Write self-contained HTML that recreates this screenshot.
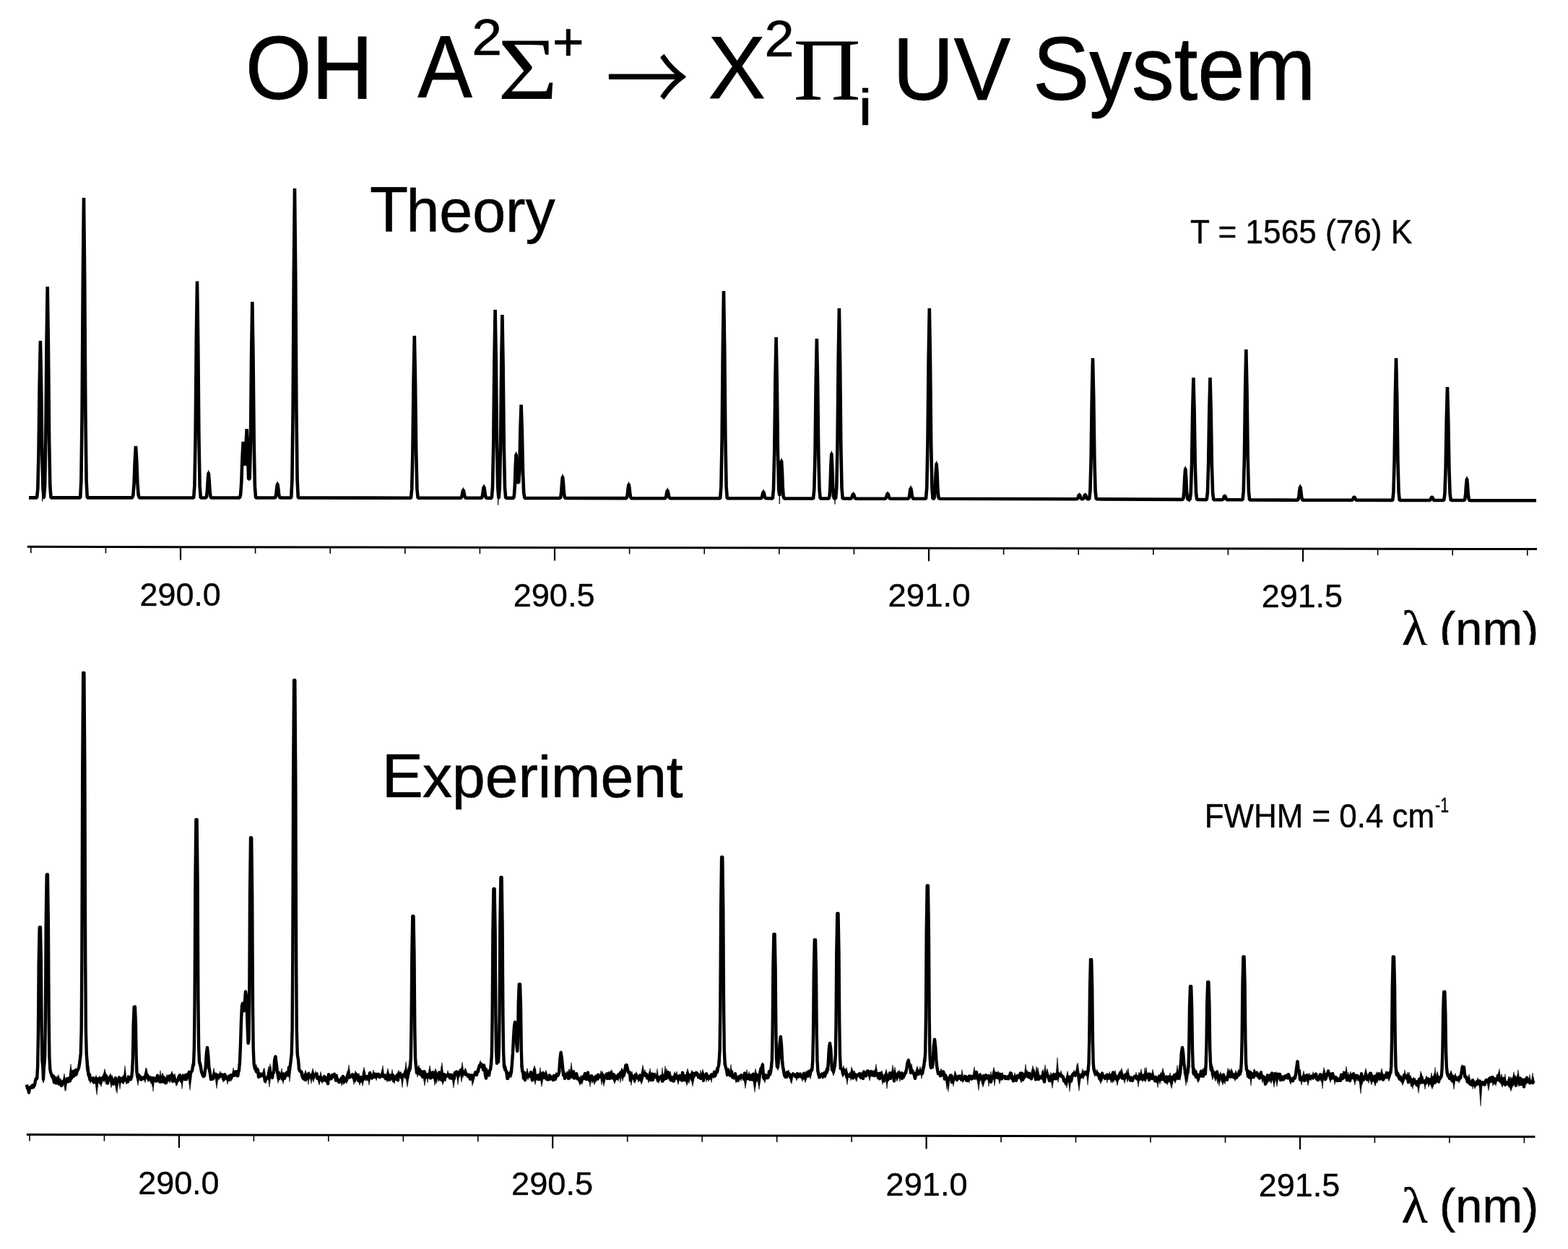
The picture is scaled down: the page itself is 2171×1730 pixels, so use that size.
<!DOCTYPE html>
<html lang="en"><head><meta charset="utf-8"><title>OH A-X UV System</title>
<style>html,body{margin:0;padding:0;background:#fff}body{width:2171px;height:1730px;overflow:hidden}svg{display:block}</style>
</head><body>
<svg width="2171" height="1730" viewBox="0 0 2171 1730" role="img" aria-label="OH A-X UV system: theory and experiment spectra">
<rect width="2171" height="1730" fill="#fff"/>
<defs><clipPath id="c1"><rect x="0" y="0" width="2171" height="893.2"/></clipPath><clipPath id="c2"><rect x="0" y="929.7" width="2171" height="700"/></clipPath></defs>
<g fill="#000" stroke="#000" stroke-linejoin="round">
<text transform="matrix(0.9828 0 0 1.0426 339.84 136.64)" font-size="120" stroke-width="0.8" style="font-family:'Liberation Sans',sans-serif">OH</text>
<text transform="matrix(0.9404 0 0 1.0180 578.54 135.49)" font-size="120" stroke-width="0.8" style="font-family:'Liberation Sans',sans-serif">A</text>
<text transform="matrix(1.0738 0 0 0.9939 653.21 76.35)" font-size="70" stroke-width="0.6" style="font-family:'Liberation Sans',sans-serif">2</text>
<text transform="matrix(1.1898 0 0 1.0166 689.15 136.90)" font-size="120" stroke="none" style="font-family:'Liberation Serif',serif">Σ</text>
<text transform="matrix(1.0676 0 0 1.0600 764.90 84.00)" font-size="70" stroke-width="0.6" style="font-family:'Liberation Sans',sans-serif">+</text>
<text transform="matrix(0.9457 0 0 1.0393 839.35 154.17)" font-size="120" stroke-width="2.0" style="font-family:'Noto Serif CJK SC','Liberation Serif',serif">→</text>
<text transform="matrix(0.9927 0 0 1.0180 980.57 136.39)" font-size="120" stroke-width="0.8" style="font-family:'Liberation Sans',sans-serif">X</text>
<text transform="matrix(1.0554 0 0 1.0121 1058.47 77.65)" font-size="70" stroke-width="0.6" style="font-family:'Liberation Sans',sans-serif">2</text>
<text transform="matrix(1.0759 0 0 1.0280 1098.43 137.80)" font-size="120" stroke="none" style="font-family:'Liberation Serif',serif">Π</text>
<text transform="matrix(1.2296 0 0 1.0049 1188.47 172.75)" font-size="70" stroke-width="0.6" style="font-family:'Liberation Sans',sans-serif">i</text>
<text transform="matrix(0.9788 0 0 1.0260 1236.04 138.16)" font-size="120" stroke-width="0.8" style="font-family:'Liberation Sans',sans-serif">UV</text>
<text transform="matrix(0.9791 0 0 1.0338 1429.90 137.70)" font-size="120" stroke-width="0.8" style="font-family:'Liberation Sans',sans-serif">System</text>
<text transform="matrix(0.9825 0 0 0.9975 511.98 320.79)" font-size="84" stroke-width="0.6" style="font-family:'Liberation Sans',sans-serif"><tspan font-size="88.5">T</tspan><tspan dx="-2.7">heory</tspan></text>
<text transform="matrix(0.9811 0 0 1.0107 1648.06 336.50)" font-size="45" stroke-width="0.4" style="font-family:'Liberation Sans',sans-serif">T = 1565 (76) K</text>
<text transform="matrix(0.9778 0 0 0.9785 528.76 1103.53)" font-size="84" stroke-width="0.6" style="font-family:'Liberation Sans',sans-serif"><tspan font-size="87.5">E</tspan><tspan dx="-0.8">xperiment</tspan></text>
<text transform="matrix(0.9762 0 0 1.0187 1667.78 1146.09)" font-size="45" stroke-width="0.4" style="font-family:'Liberation Sans',sans-serif">FWHM = 0.4 cm</text>
<text transform="matrix(0.7908 0 0 1.0773 1987.11 1125.10)" font-size="27" stroke-width="0.3" style="font-family:'Liberation Sans',sans-serif">-1</text>
<text transform="matrix(0.9972 0 0 0.9875 193.51 839.01)" font-size="45" stroke-width="0.4" style="font-family:'Liberation Sans',sans-serif">290.0</text>
<text transform="matrix(1.0028 0 0 0.9875 710.69 839.61)" font-size="45" stroke-width="0.4" style="font-family:'Liberation Sans',sans-serif">290.5</text>
<text transform="matrix(1.0128 0 0 0.9875 1229.47 840.11)" font-size="45" stroke-width="0.4" style="font-family:'Liberation Sans',sans-serif">291.0</text>
<text transform="matrix(0.9982 0 0 0.9875 1746.70 841.11)" font-size="45" stroke-width="0.4" style="font-family:'Liberation Sans',sans-serif">291.5</text>
<text transform="matrix(0.9982 0 0 1.0000 191.20 1654.10)" font-size="45" stroke-width="0.4" style="font-family:'Liberation Sans',sans-serif">290.0</text>
<text transform="matrix(1.0046 0 0 1.0000 707.99 1654.90)" font-size="45" stroke-width="0.4" style="font-family:'Liberation Sans',sans-serif">290.5</text>
<text transform="matrix(1.0037 0 0 1.0000 1226.59 1656.10)" font-size="45" stroke-width="0.4" style="font-family:'Liberation Sans',sans-serif">291.0</text>
<text transform="matrix(0.9982 0 0 1.0000 1742.80 1657.10)" font-size="45" stroke-width="0.4" style="font-family:'Liberation Sans',sans-serif">291.5</text>
<g clip-path="url(#c1)"><text transform="matrix(1.0667 0 0 1.0070 1940.50 894.45)" font-size="70" stroke-width="0.5" style="font-family:'Liberation Serif',serif">λ</text></g>
<g clip-path="url(#c1)"><text transform="matrix(0.9814 0 0 0.9835 1993.07 893.58)" font-size="68" stroke-width="0.5" style="font-family:'Liberation Sans',sans-serif">(nm)</text></g>
<text transform="matrix(1.0667 0 0 1.0070 1940.50 1693.15)" font-size="70" stroke-width="0.5" style="font-family:'Liberation Serif',serif">λ</text>
<text transform="matrix(0.9814 0 0 0.9835 1993.07 1692.88)" font-size="68" stroke-width="0.5" style="font-family:'Liberation Sans',sans-serif">(nm)</text>
</g>
<line x1="37.8" y1="757.3" x2="2128" y2="760.6" stroke="#000" stroke-width="3.0"/>
<line x1="42.8" y1="757.3" x2="42.8" y2="766.1" stroke="#000" stroke-width="1.6"/>
<line x1="146.4" y1="757.5" x2="146.4" y2="766.3" stroke="#000" stroke-width="1.6"/>
<line x1="250.0" y1="757.6" x2="250.0" y2="775.6" stroke="#000" stroke-width="2.2"/>
<line x1="353.6" y1="757.8" x2="353.6" y2="766.6" stroke="#000" stroke-width="1.6"/>
<line x1="457.2" y1="758.0" x2="457.2" y2="766.8" stroke="#000" stroke-width="1.6"/>
<line x1="560.8" y1="758.1" x2="560.8" y2="766.9" stroke="#000" stroke-width="1.6"/>
<line x1="664.4" y1="758.3" x2="664.4" y2="767.1" stroke="#000" stroke-width="1.6"/>
<line x1="768.0" y1="758.5" x2="768.0" y2="776.5" stroke="#000" stroke-width="2.2"/>
<line x1="871.6" y1="758.6" x2="871.6" y2="767.4" stroke="#000" stroke-width="1.6"/>
<line x1="975.2" y1="758.8" x2="975.2" y2="767.6" stroke="#000" stroke-width="1.6"/>
<line x1="1078.8" y1="758.9" x2="1078.8" y2="767.7" stroke="#000" stroke-width="1.6"/>
<line x1="1182.4" y1="759.1" x2="1182.4" y2="767.9" stroke="#000" stroke-width="1.6"/>
<line x1="1286.0" y1="759.3" x2="1286.0" y2="777.3" stroke="#000" stroke-width="2.2"/>
<line x1="1389.6" y1="759.4" x2="1389.6" y2="768.2" stroke="#000" stroke-width="1.6"/>
<line x1="1493.2" y1="759.6" x2="1493.2" y2="768.4" stroke="#000" stroke-width="1.6"/>
<line x1="1596.8" y1="759.8" x2="1596.8" y2="768.6" stroke="#000" stroke-width="1.6"/>
<line x1="1700.4" y1="759.9" x2="1700.4" y2="768.7" stroke="#000" stroke-width="1.6"/>
<line x1="1804.0" y1="760.1" x2="1804.0" y2="778.1" stroke="#000" stroke-width="2.2"/>
<line x1="1907.6" y1="760.3" x2="1907.6" y2="769.1" stroke="#000" stroke-width="1.6"/>
<line x1="2011.2" y1="760.4" x2="2011.2" y2="769.2" stroke="#000" stroke-width="1.6"/>
<line x1="2114.8" y1="760.6" x2="2114.8" y2="769.4" stroke="#000" stroke-width="1.6"/>
<line x1="36.9" y1="1571.6" x2="2125.4" y2="1574.6" stroke="#000" stroke-width="3.0"/>
<line x1="41.0" y1="1571.6" x2="41.0" y2="1580.4" stroke="#000" stroke-width="1.6"/>
<line x1="144.4" y1="1571.8" x2="144.4" y2="1580.6" stroke="#000" stroke-width="1.6"/>
<line x1="247.9" y1="1571.9" x2="247.9" y2="1589.9" stroke="#000" stroke-width="2.2"/>
<line x1="351.4" y1="1572.1" x2="351.4" y2="1580.9" stroke="#000" stroke-width="1.6"/>
<line x1="454.8" y1="1572.2" x2="454.8" y2="1581.0" stroke="#000" stroke-width="1.6"/>
<line x1="558.3" y1="1572.3" x2="558.3" y2="1581.1" stroke="#000" stroke-width="1.6"/>
<line x1="661.8" y1="1572.5" x2="661.8" y2="1581.3" stroke="#000" stroke-width="1.6"/>
<line x1="765.2" y1="1572.6" x2="765.2" y2="1590.6" stroke="#000" stroke-width="2.2"/>
<line x1="868.7" y1="1572.8" x2="868.7" y2="1581.6" stroke="#000" stroke-width="1.6"/>
<line x1="972.2" y1="1572.9" x2="972.2" y2="1581.7" stroke="#000" stroke-width="1.6"/>
<line x1="1075.7" y1="1573.1" x2="1075.7" y2="1581.9" stroke="#000" stroke-width="1.6"/>
<line x1="1179.1" y1="1573.2" x2="1179.1" y2="1582.0" stroke="#000" stroke-width="1.6"/>
<line x1="1282.6" y1="1573.4" x2="1282.6" y2="1591.4" stroke="#000" stroke-width="2.2"/>
<line x1="1386.1" y1="1573.5" x2="1386.1" y2="1582.3" stroke="#000" stroke-width="1.6"/>
<line x1="1489.5" y1="1573.7" x2="1489.5" y2="1582.5" stroke="#000" stroke-width="1.6"/>
<line x1="1593.0" y1="1573.8" x2="1593.0" y2="1582.6" stroke="#000" stroke-width="1.6"/>
<line x1="1696.5" y1="1574.0" x2="1696.5" y2="1582.8" stroke="#000" stroke-width="1.6"/>
<line x1="1800.0" y1="1574.1" x2="1800.0" y2="1592.1" stroke="#000" stroke-width="2.2"/>
<line x1="1903.4" y1="1574.3" x2="1903.4" y2="1583.1" stroke="#000" stroke-width="1.6"/>
<line x1="2006.9" y1="1574.4" x2="2006.9" y2="1583.2" stroke="#000" stroke-width="1.6"/>
<line x1="2110.4" y1="1574.6" x2="2110.4" y2="1583.4" stroke="#000" stroke-width="1.6"/>
<polyline points="40.0,689.4 51.1,689.4 52.3,677.0 53.5,628.5 54.7,531.4 55.9,472.0 57.1,531.4 58.3,628.5 59.5,677.0 60.7,689.4 60.9,689.4 62.1,672.7 63.3,607.5 64.5,476.8 65.7,397.0 66.9,476.8 68.1,607.5 69.3,672.7 70.5,689.4 111.2,689.4 112.4,665.7 113.6,573.1 114.8,387.4 116.0,274.0 117.2,387.4 118.4,573.1 119.6,665.7 120.8,689.4 183.2,689.4 184.4,685.4 185.6,669.4 186.8,637.4 188.0,617.8 189.2,637.4 190.4,669.4 191.6,685.4 192.8,689.4 268.2,689.5 269.4,672.4 270.6,605.5 271.8,471.4 273.0,389.5 274.2,471.4 275.4,605.5 276.6,672.4 277.8,689.5 285.1,689.5 286.0,687.5 286.9,679.8 287.8,664.3 288.7,654.8 289.6,664.3 290.5,679.8 291.4,687.5 292.3,689.5 331.9,689.5 333.1,685.1 334.3,667.8 335.5,633.2 336.7,612.0 336.9,615.5 337.9,628.6 338.1,633.5 339.1,644.6 339.3,643.9 340.3,622.8 340.5,616.4 341.5,598.3 341.7,594.0 342.9,620.1 344.1,662.7 344.5,663.5 345.3,663.5 345.5,663.5 345.7,663.5 346.5,633.6 346.9,613.5 348.1,492.1 349.3,418.0 350.5,492.1 351.7,613.5 352.9,674.0 354.1,689.5 380.6,689.5 381.5,688.4 382.4,684.0 383.3,675.3 384.2,670.0 385.1,675.3 386.0,684.0 386.9,688.4 387.8,689.5 403.2,689.5 404.4,665.1 405.6,569.5 406.8,378.0 408.0,261.0 409.2,378.0 410.4,569.5 411.6,665.1 412.8,689.5 569.0,689.7 570.2,676.9 571.4,626.8 572.6,526.3 573.8,465.0 575.0,526.4 576.2,626.8 577.4,676.9 578.6,689.7 637.8,689.8 638.7,689.2 639.6,686.6 640.5,681.6 641.4,678.5 642.3,681.6 643.2,686.6 644.1,689.2 645.0,689.8 666.4,689.8 667.3,688.9 668.2,685.4 669.1,678.3 670.0,674.0 670.9,678.3 671.8,685.4 672.7,688.9 673.6,689.9 680.8,689.9 682.0,675.0 683.2,616.8 684.4,500.2 685.6,429.0 686.8,500.2 688.0,616.8 689.2,675.0 690.4,689.9 690.6,689.9 691.8,675.4 693.0,618.8 694.2,505.3 695.4,436.0 696.6,505.3 697.8,618.8 699.0,675.4 700.2,689.9 711.0,689.9 711.9,686.4 712.8,672.8 713.7,645.6 714.6,629.0 715.5,645.6 716.4,668.3 716.8,668.3 717.3,668.3 717.4,668.3 718.0,668.3 718.2,668.3 719.2,653.7 720.4,595.8 721.6,560.5 722.8,595.8 724.0,653.7 725.2,682.5 726.4,689.9 775.4,690.0 776.3,688.3 777.2,681.6 778.1,668.2 779.0,660.0 779.9,668.2 780.8,681.6 781.7,688.3 782.6,690.0 867.0,690.1 867.9,689.0 868.8,684.7 869.7,676.0 870.6,670.7 871.5,676.0 872.4,684.7 873.3,689.0 874.2,690.1 920.6,690.2 921.5,689.5 922.4,687.0 923.3,682.0 924.2,679.0 925.1,682.1 926.0,687.0 926.9,689.5 927.8,690.2 997.2,690.3 998.4,673.9 999.6,609.8 1000.8,481.4 1002.0,403.0 1003.2,481.4 1004.4,609.8 1005.6,673.9 1006.8,690.3 1053.4,690.3 1054.3,689.8 1055.2,687.7 1056.1,683.5 1057.0,681.0 1057.9,683.6 1058.8,687.7 1059.7,689.8 1060.6,690.3 1069.8,690.4 1071.0,677.6 1072.2,627.8 1073.4,528.0 1074.6,467.0 1075.8,528.0 1077.0,627.8 1078.2,677.6 1078.4,679.8 1079.3,686.3 1079.4,686.1 1080.2,675.7 1081.1,652.3 1082.0,638.0 1082.9,652.3 1083.8,675.7 1084.7,687.4 1085.6,690.4 1126.1,690.5 1127.3,677.8 1128.5,628.4 1129.7,529.5 1130.9,469.0 1132.1,529.5 1133.3,628.5 1134.5,677.8 1135.7,690.5 1147.7,690.5 1148.6,686.9 1149.5,673.0 1150.4,645.1 1151.3,628.0 1152.2,645.1 1153.1,673.0 1154.0,686.9 1154.9,690.5 1157.1,690.5 1158.3,675.5 1159.5,616.7 1160.7,498.9 1161.9,427.0 1163.1,498.9 1164.3,616.7 1165.5,675.5 1166.7,690.5 1177.8,690.6 1178.7,690.2 1179.6,688.6 1180.5,685.5 1181.4,683.7 1182.3,685.5 1183.2,688.6 1184.1,690.2 1185.0,690.6 1225.4,690.7 1226.3,690.2 1227.2,688.6 1228.1,685.2 1229.0,683.2 1229.9,685.2 1230.8,688.6 1231.7,690.2 1232.6,690.7 1257.4,690.7 1258.3,689.9 1259.2,686.5 1260.1,679.8 1261.0,675.7 1261.9,679.8 1262.8,686.5 1263.7,689.9 1264.6,690.7 1282.0,690.8 1283.2,675.7 1284.4,616.9 1285.6,499.0 1286.8,427.0 1288.0,499.0 1289.2,616.9 1290.4,675.7 1291.6,690.8 1293.0,690.8 1293.9,688.0 1294.8,677.1 1295.7,655.3 1296.6,642.0 1297.5,655.3 1298.4,677.1 1299.3,688.0 1300.2,690.8 1490.8,691.2 1491.7,690.8 1492.6,689.4 1493.5,686.5 1494.4,684.8 1495.3,686.5 1496.2,689.4 1497.1,690.8 1498.0,691.2 1498.9,691.2 1499.8,690.8 1500.7,689.4 1501.6,686.5 1502.5,684.8 1503.4,686.5 1504.3,689.4 1505.2,690.9 1506.1,691.2 1508.2,691.2 1509.4,680.1 1510.6,636.6 1511.8,549.3 1513.0,496.0 1514.2,549.3 1515.4,636.6 1516.6,680.2 1517.8,691.3 1637.6,691.9 1638.5,689.4 1639.4,679.9 1640.3,660.7 1641.2,649.0 1642.1,660.7 1643.0,679.9 1643.9,689.5 1644.8,691.9 1647.6,691.9 1648.8,682.3 1650.0,644.6 1651.2,569.1 1652.4,523.0 1653.6,569.1 1654.8,644.7 1656.0,682.3 1657.2,692.0 1670.7,692.1 1671.9,682.4 1673.1,644.7 1674.3,569.2 1675.5,523.0 1676.7,569.2 1677.9,644.7 1679.1,682.5 1680.3,692.1 1692.1,692.2 1693.0,691.8 1693.9,690.6 1694.8,688.0 1695.7,686.5 1696.6,688.0 1697.5,690.6 1698.4,691.9 1699.3,692.2 1720.5,692.3 1721.7,680.4 1722.9,634.0 1724.1,540.9 1725.3,484.0 1726.5,540.9 1727.7,634.0 1728.9,680.5 1730.1,692.4 1796.6,692.7 1797.5,691.6 1798.4,687.5 1799.3,679.1 1800.2,674.0 1801.1,679.1 1802.0,687.5 1802.9,691.6 1803.8,692.7 1871.4,692.8 1872.3,692.5 1873.2,691.5 1874.1,689.3 1875.0,688.0 1875.9,689.3 1876.8,691.5 1877.7,692.5 1878.6,692.8 1928.2,692.9 1929.4,681.7 1930.6,637.8 1931.8,549.8 1933.0,496.0 1934.2,549.8 1935.4,637.8 1936.6,681.7 1937.8,692.9 1979.0,693.0 1979.9,692.7 1980.8,691.6 1981.7,689.4 1982.6,688.1 1983.5,689.4 1984.4,691.6 1985.3,692.7 1986.2,693.0 1999.2,693.0 2000.4,684.1 2001.6,649.0 2002.8,578.9 2004.0,536.0 2005.2,578.9 2006.4,649.1 2007.6,684.1 2008.8,693.0 2027.4,693.0 2028.3,691.3 2029.2,684.6 2030.1,671.2 2031.0,663.0 2031.9,671.2 2032.8,684.6 2033.7,691.3 2034.6,693.1 2127.0,693.2" fill="none" stroke="#000" stroke-width="4.6" stroke-linejoin="bevel"/>
<path d="M286.4,656.3L288.7,650.8L291.0,656.3ZM381.9,671.5L384.2,666.0L386.5,671.5ZM639.1,680.0L641.4,674.5L643.7,680.0ZM667.7,675.5L670.0,670.0L672.3,675.5ZM712.3,630.5L714.6,625.0L716.9,630.5ZM776.7,661.5L779.0,656.0L781.3,661.5ZM868.3,672.2L870.6,666.7L872.9,672.2ZM921.9,680.5L924.2,675.0L926.5,680.5ZM1054.7,682.5L1057.0,677.0L1059.3,682.5ZM1079.7,639.5L1082.0,634.0L1084.3,639.5ZM1149.0,629.5L1151.3,624.0L1153.6,629.5ZM1179.1,685.2L1181.4,680.7L1183.7,685.2ZM1226.7,684.7L1229.0,680.0L1231.3,684.7ZM1258.7,677.2L1261.0,671.7L1263.3,677.2ZM1294.3,643.5L1296.6,638.0L1298.9,643.5ZM1492.1,686.3L1494.4,682.0L1496.7,686.3ZM1500.2,686.3L1502.5,682.0L1504.8,686.3ZM1638.9,650.5L1641.2,645.0L1643.5,650.5ZM1693.4,688.0L1695.7,684.0L1698.0,688.0ZM1797.9,675.5L1800.2,670.0L1802.5,675.5ZM1872.7,689.5L1875.0,686.0L1877.3,689.5ZM1980.3,689.6L1982.6,686.0L1984.9,689.6ZM2028.7,664.5L2031.0,659.0L2033.3,664.5Z" fill="#000"/>
<line x1="58.6" y1="683.4" x2="58.6" y2="694.5" stroke="#000" stroke-width="1.3"/>
<line x1="689.6" y1="683.9" x2="689.6" y2="699.5" stroke="#000" stroke-width="1.3"/>
<line x1="1079.3" y1="684.4" x2="1079.3" y2="698" stroke="#000" stroke-width="1.3"/>
<line x1="1156" y1="684.5" x2="1156" y2="698.5" stroke="#000" stroke-width="1.3"/>
<line x1="1646.8" y1="685.9" x2="1646.8" y2="695.6" stroke="#000" stroke-width="1.3"/>
<g clip-path="url(#c2)" fill="none" stroke="#000"><polyline points="37.0,1502.4 38.0,1507.6 39.0,1508.0 40.0,1513.4 41.0,1506.2 42.0,1506.6 43.0,1506.7 44.0,1504.0 45.0,1503.3 46.0,1506.2 47.0,1504.6 48.0,1502.3 49.0,1496.8 50.0,1493.8 51.0,1494.2 51.3,1492.7 52.2,1476.1 52.9,1434.8 53.3,1390.0 53.7,1334.1 54.7,1284.3 55.9,1284.1 56.9,1331.4 57.3,1386.4 57.7,1430.7 58.4,1469.4 59.3,1476.4 60.0,1494.5 61.0,1475.8 61.3,1475.5 62.2,1461.6 62.9,1409.3 63.3,1351.3 63.7,1278.9 64.7,1211.3 65.9,1211.1 66.9,1279.7 67.3,1352.8 67.7,1411.3 68.4,1463.8 69.3,1480.9 70.0,1484.7 71.0,1487.7 72.0,1491.0 73.0,1492.1 74.0,1490.4 75.0,1499.3 76.0,1492.7 77.0,1497.2 78.0,1500.4 79.0,1498.2 80.0,1498.0 81.0,1495.8 82.0,1501.6 83.0,1498.5 84.0,1498.9 85.0,1503.8 86.0,1502.6 87.0,1498.1 88.0,1497.8 89.0,1496.8 90.0,1498.0 91.0,1497.8 92.0,1497.8 93.0,1494.0 94.0,1498.3 95.0,1495.5 96.0,1493.2 97.0,1497.3 98.0,1488.9 99.0,1493.5 100.0,1490.8 101.0,1483.9 102.0,1490.7 103.0,1489.0 104.0,1482.7 105.0,1488.8 106.0,1486.8 107.0,1483.0 108.0,1481.7 109.0,1479.0 110.0,1473.6 111.0,1466.1 111.8,1458.9 112.7,1425.5 113.4,1324.5 113.8,1212.0 114.2,1071.2 115.2,931.8 116.4,932.0 117.4,1071.7 117.8,1213.8 118.2,1326.8 118.9,1427.2 119.8,1460.6 120.0,1462.4 121.0,1477.8 122.0,1483.7 123.0,1489.2 124.0,1488.3 125.0,1495.0 126.0,1494.8 127.0,1496.6 128.0,1496.5 129.0,1493.1 130.0,1499.4 131.0,1497.2 132.0,1497.0 133.0,1495.3 134.0,1500.6 135.0,1494.1 136.0,1495.5 137.0,1494.1 138.0,1495.9 139.0,1500.1 140.0,1497.3 141.0,1493.2 142.0,1495.0 143.0,1495.0 144.0,1490.1 145.0,1489.0 146.0,1494.9 147.0,1489.8 148.0,1500.1 149.0,1500.4 150.0,1492.9 151.0,1496.1 152.0,1494.2 153.0,1494.7 154.0,1496.7 155.0,1495.1 156.0,1496.9 157.0,1501.6 158.0,1497.3 159.0,1497.5 160.0,1493.1 161.0,1500.7 162.0,1497.5 163.0,1498.3 164.0,1497.2 165.0,1492.3 166.0,1495.3 167.0,1497.3 168.0,1495.6 169.0,1493.9 170.0,1498.5 171.0,1496.5 172.0,1491.6 173.0,1493.2 174.0,1495.3 175.0,1496.3 176.0,1495.2 177.0,1498.5 178.0,1491.6 179.0,1492.9 180.0,1492.6 181.0,1495.1 182.0,1491.9 182.3,1490.5 183.2,1482.2 183.9,1464.8 184.3,1444.3 184.7,1418.7 185.7,1394.7 186.9,1394.5 187.9,1418.4 188.3,1444.2 188.7,1464.7 189.4,1484.6 190.3,1491.3 191.0,1492.8 192.0,1489.0 193.0,1490.6 194.0,1491.3 195.0,1495.3 196.0,1495.2 197.0,1492.7 198.0,1493.6 199.0,1492.2 200.0,1494.4 201.0,1491.0 202.0,1488.1 203.0,1489.0 204.0,1489.1 205.0,1493.4 206.0,1491.6 207.0,1495.3 208.0,1492.2 209.0,1495.8 210.0,1496.3 211.0,1496.6 212.0,1493.0 213.0,1493.8 214.0,1493.8 215.0,1496.9 216.0,1493.3 217.0,1497.3 218.0,1489.6 219.0,1493.9 220.0,1493.3 221.0,1494.4 222.0,1498.6 223.0,1498.4 224.0,1495.2 225.0,1491.4 226.0,1498.4 227.0,1497.5 228.0,1495.8 229.0,1500.0 230.0,1499.8 231.0,1496.3 232.0,1495.1 233.0,1495.8 234.0,1490.6 235.0,1494.7 236.0,1493.1 237.0,1489.7 238.0,1489.3 239.0,1497.7 240.0,1494.6 241.0,1490.6 242.0,1497.3 243.0,1496.2 244.0,1497.3 245.0,1497.5 246.0,1496.9 247.0,1493.4 248.0,1490.4 249.0,1489.3 250.0,1492.9 251.0,1497.6 252.0,1492.1 253.0,1492.4 254.0,1490.1 255.0,1491.1 256.0,1495.1 257.0,1488.9 258.0,1495.1 259.0,1491.2 260.0,1488.4 261.0,1488.1 262.0,1484.8 263.0,1494.1 264.0,1486.2 265.0,1484.4 266.0,1483.2 267.0,1476.5 268.0,1475.1 268.9,1450.1 269.6,1385.1 270.0,1312.9 270.4,1223.1 271.4,1135.2 272.6,1135.2 273.6,1223.3 274.0,1313.7 274.4,1385.3 275.1,1449.5 276.0,1470.3 277.0,1473.3 278.0,1478.0 279.0,1484.9 280.0,1486.9 281.0,1490.1 282.0,1491.0 283.0,1490.0 284.0,1482.2 284.6,1479.7 285.8,1459.6 287.0,1450.9 288.2,1460.9 289.4,1479.5 290.0,1481.9 291.0,1487.1 292.0,1495.1 293.0,1493.9 294.0,1494.5 295.0,1494.4 296.0,1489.5 297.0,1491.3 298.0,1489.5 299.0,1487.8 300.0,1493.3 301.0,1492.5 302.0,1491.6 303.0,1488.9 304.0,1491.6 305.0,1489.6 306.0,1488.3 307.0,1488.3 308.0,1490.2 309.0,1493.4 310.0,1495.3 311.0,1488.2 312.0,1489.7 313.0,1493.4 314.0,1492.4 315.0,1492.3 316.0,1495.5 317.0,1490.5 318.0,1493.2 319.0,1491.8 320.0,1489.0 321.0,1491.0 322.0,1489.1 323.0,1489.1 324.0,1489.8 325.0,1489.3 326.0,1484.3 327.0,1489.2 328.0,1484.2 329.0,1490.4 330.0,1484.7 331.0,1481.3 332.0,1470.8 333.0,1447.2 334.0,1413.5 335.0,1393.1 336.0,1389.7 337.0,1398.0 338.0,1400.1 339.0,1386.7 340.0,1373.5 341.0,1379.2 342.0,1401.9 343.0,1432.4 343.6,1445.0 344.5,1440.3 345.2,1386.2 345.6,1321.3 346.0,1239.0 347.0,1160.1 348.2,1160.3 349.2,1241.8 349.6,1325.7 350.0,1392.8 350.7,1452.2 351.6,1473.0 352.0,1475.4 353.0,1480.7 354.0,1480.7 355.0,1484.5 356.0,1480.6 357.0,1482.1 358.0,1491.8 359.0,1487.3 360.0,1490.9 361.0,1487.5 362.0,1489.2 363.0,1487.9 364.0,1490.0 365.0,1489.0 366.0,1491.9 367.0,1497.7 368.0,1494.2 369.0,1493.2 370.0,1492.2 371.0,1493.4 372.0,1486.5 373.0,1491.1 374.0,1487.2 375.0,1491.4 376.0,1486.1 377.0,1492.8 378.0,1486.2 379.0,1485.9 380.2,1467.8 381.4,1463.4 382.6,1472.9 383.8,1483.1 385.0,1490.1 386.0,1494.3 387.0,1488.4 388.0,1491.5 389.0,1488.3 390.0,1490.9 391.0,1494.6 392.0,1492.7 393.0,1487.3 394.0,1493.9 395.0,1490.9 396.0,1487.5 397.0,1485.8 398.0,1485.3 399.0,1489.5 400.0,1478.5 401.0,1481.3 402.0,1474.9 403.0,1466.0 403.7,1459.7 404.6,1426.9 405.3,1327.6 405.7,1217.0 406.1,1078.7 407.1,942.1 408.3,942.1 409.3,1079.8 409.7,1216.9 410.1,1326.7 410.8,1426.2 411.7,1459.1 412.0,1461.8 413.0,1468.1 414.0,1480.7 415.0,1483.2 416.0,1484.3 417.0,1484.3 418.0,1486.4 419.0,1491.9 420.0,1493.9 421.0,1491.5 422.0,1495.4 423.0,1488.6 424.0,1492.6 425.0,1492.4 426.0,1493.6 427.0,1487.2 428.0,1490.3 429.0,1492.1 430.0,1489.4 431.0,1491.3 432.0,1489.5 433.0,1487.6 434.0,1491.8 435.0,1489.9 436.0,1490.1 437.0,1488.6 438.0,1490.2 439.0,1491.9 440.0,1494.0 441.0,1492.0 442.0,1495.9 443.0,1491.9 444.0,1493.8 445.0,1492.8 446.0,1495.7 447.0,1496.4 448.0,1496.5 449.0,1491.0 450.0,1494.1 451.0,1493.8 452.0,1497.4 453.0,1492.6 454.0,1501.0 455.0,1488.1 456.0,1491.9 457.0,1490.9 458.0,1494.5 459.0,1493.5 460.0,1489.0 461.0,1491.2 462.0,1489.6 463.0,1487.7 464.0,1489.5 465.0,1496.5 466.0,1494.5 467.0,1495.3 468.0,1495.1 469.0,1498.6 470.0,1498.9 471.0,1495.8 472.0,1495.7 473.0,1493.0 474.0,1495.4 475.0,1490.8 476.0,1499.1 477.0,1497.8 478.0,1493.2 479.0,1494.1 480.0,1495.5 481.0,1490.5 482.0,1489.3 483.0,1488.3 484.0,1492.4 485.0,1491.1 486.0,1490.4 487.0,1490.8 488.0,1488.3 489.0,1492.4 490.0,1490.3 491.0,1497.2 492.0,1489.7 493.0,1487.6 494.0,1492.0 495.0,1489.4 496.0,1496.6 497.0,1493.4 498.0,1496.8 499.0,1492.2 500.0,1491.9 501.0,1496.9 502.0,1495.6 503.0,1494.7 504.0,1486.7 505.0,1492.9 506.0,1492.1 507.0,1491.1 508.0,1490.9 509.0,1492.0 510.0,1494.4 511.0,1492.4 512.0,1486.1 513.0,1489.5 514.0,1491.0 515.0,1493.4 516.0,1490.0 517.0,1489.8 518.0,1491.6 519.0,1487.6 520.0,1491.6 521.0,1490.6 522.0,1488.1 523.0,1489.9 524.0,1487.7 525.0,1491.4 526.0,1492.1 527.0,1489.9 528.0,1490.6 529.0,1488.1 530.0,1490.1 531.0,1491.2 532.0,1490.0 533.0,1489.5 534.0,1494.2 535.0,1491.8 536.0,1492.4 537.0,1488.5 538.0,1493.0 539.0,1489.2 540.0,1495.4 541.0,1492.4 542.0,1489.5 543.0,1493.0 544.0,1489.2 545.0,1497.3 546.0,1491.7 547.0,1491.1 548.0,1491.6 549.0,1494.8 550.0,1488.9 551.0,1496.3 552.0,1487.6 553.0,1489.1 554.0,1487.2 555.0,1490.4 556.0,1492.7 557.0,1491.1 558.0,1490.9 559.0,1488.0 560.0,1490.3 561.0,1488.3 562.0,1487.9 563.0,1484.8 564.0,1493.0 565.0,1488.1 566.0,1482.9 567.0,1480.3 567.9,1480.1 568.8,1465.4 569.5,1424.9 569.9,1379.8 570.3,1323.5 571.3,1269.0 572.5,1269.0 573.5,1324.4 573.9,1380.8 574.3,1425.7 575.0,1465.8 575.9,1476.8 576.0,1476.7 577.0,1485.9 578.0,1482.9 579.0,1482.1 580.0,1486.8 581.0,1481.5 582.0,1488.4 583.0,1483.8 584.0,1488.5 585.0,1491.7 586.0,1487.9 587.0,1484.2 588.0,1490.9 589.0,1488.1 590.0,1492.0 591.0,1491.8 592.0,1488.3 593.0,1490.1 594.0,1488.4 595.0,1486.8 596.0,1493.4 597.0,1492.4 598.0,1490.8 599.0,1485.1 600.0,1492.1 601.0,1492.6 602.0,1490.2 603.0,1485.8 604.0,1492.7 605.0,1491.9 606.0,1491.0 607.0,1489.1 608.0,1485.4 609.0,1494.3 610.0,1495.3 611.0,1490.4 612.0,1489.3 613.0,1496.4 614.0,1492.2 615.0,1488.1 616.0,1492.1 617.0,1489.5 618.0,1490.5 619.0,1489.4 620.0,1490.2 621.0,1490.8 622.0,1488.5 623.0,1493.3 624.0,1491.7 625.0,1489.1 626.0,1493.4 627.0,1492.7 628.0,1493.5 629.0,1493.7 630.0,1485.6 631.0,1489.0 632.0,1484.5 633.0,1486.5 634.0,1487.2 635.0,1487.0 636.0,1484.6 637.0,1484.7 638.0,1481.9 639.0,1486.6 640.0,1484.3 641.0,1484.2 642.0,1486.8 643.0,1487.6 644.0,1486.2 645.0,1486.8 646.0,1489.0 647.0,1489.2 648.0,1491.0 649.0,1488.5 650.0,1490.6 651.0,1494.7 652.0,1491.7 653.0,1489.4 654.0,1490.3 655.0,1493.3 656.0,1488.9 657.0,1488.9 658.0,1488.4 659.0,1485.2 660.0,1488.8 661.0,1484.5 662.0,1484.5 663.0,1478.7 664.0,1475.7 665.0,1475.4 666.0,1473.6 667.0,1477.7 668.0,1475.3 669.0,1481.9 670.0,1475.5 671.0,1480.4 672.0,1489.3 673.0,1493.5 674.0,1484.0 675.0,1489.4 676.0,1485.3 677.0,1489.4 678.0,1483.0 679.0,1481.5 680.0,1473.7 680.9,1459.3 681.6,1410.9 682.0,1357.5 682.4,1292.2 683.4,1231.2 684.6,1231.2 685.6,1290.5 686.0,1355.9 686.4,1408.9 687.1,1456.4 688.0,1472.8 689.0,1466.5 690.0,1470.9 690.9,1453.9 691.6,1404.3 692.0,1348.7 692.4,1279.3 693.4,1215.2 694.6,1215.2 695.6,1281.9 696.0,1351.9 696.4,1407.3 697.1,1457.1 698.0,1477.1 699.0,1478.2 700.0,1482.3 701.0,1483.3 702.0,1487.1 703.0,1493.9 704.0,1491.5 705.0,1490.7 706.0,1485.9 707.0,1486.5 708.0,1484.2 709.0,1472.2 710.0,1458.2 711.0,1437.6 712.0,1421.6 713.0,1415.6 714.0,1424.5 715.0,1440.5 715.4,1447.8 716.3,1455.9 717.0,1440.7 717.4,1418.3 717.8,1388.4 718.8,1363.2 720.0,1363.2 721.0,1393.9 721.4,1426.8 721.8,1453.2 722.5,1477.5 723.4,1484.4 724.0,1484.5 725.0,1493.6 726.0,1485.8 727.0,1496.0 728.0,1490.7 729.0,1491.4 730.0,1488.8 731.0,1490.3 732.0,1491.1 733.0,1490.8 734.0,1488.6 735.0,1485.0 736.0,1490.1 737.0,1496.3 738.0,1492.0 739.0,1489.7 740.0,1482.2 741.0,1492.9 742.0,1492.0 743.0,1489.8 744.0,1490.5 745.0,1494.9 746.0,1488.9 747.0,1494.8 748.0,1491.9 749.0,1487.5 750.0,1494.1 751.0,1491.4 752.0,1485.9 753.0,1490.9 754.0,1492.9 755.0,1491.7 756.0,1488.3 757.0,1494.8 758.0,1492.8 759.0,1495.5 760.0,1495.2 761.0,1489.3 762.0,1493.1 763.0,1494.2 764.0,1491.9 765.0,1494.9 766.0,1496.0 767.0,1489.8 768.0,1490.4 769.0,1494.8 770.0,1490.7 771.0,1488.4 772.0,1490.1 773.0,1488.7 774.2,1484.8 775.4,1466.5 776.6,1457.7 777.8,1465.6 779.0,1477.7 780.0,1489.2 781.0,1486.9 782.0,1493.9 783.0,1490.8 784.0,1488.2 785.0,1488.7 786.0,1489.7 787.0,1493.9 788.0,1486.2 789.0,1488.1 790.0,1487.0 791.0,1487.3 792.0,1491.5 793.0,1489.7 794.0,1484.1 795.0,1493.5 796.0,1490.4 797.0,1493.1 798.0,1487.2 799.0,1491.4 800.0,1494.6 801.0,1493.4 802.0,1495.5 803.0,1497.8 804.0,1498.9 805.0,1493.7 806.0,1494.6 807.0,1491.2 808.0,1493.7 809.0,1490.9 810.0,1486.9 811.0,1494.7 812.0,1494.9 813.0,1489.1 814.0,1485.6 815.0,1494.2 816.0,1496.4 817.0,1492.7 818.0,1493.0 819.0,1490.0 820.0,1494.6 821.0,1492.5 822.0,1492.5 823.0,1495.9 824.0,1495.9 825.0,1490.8 826.0,1490.8 827.0,1494.6 828.0,1488.6 829.0,1490.4 830.0,1491.6 831.0,1491.0 832.0,1491.4 833.0,1489.9 834.0,1489.0 835.0,1490.5 836.0,1495.5 837.0,1490.0 838.0,1491.4 839.0,1492.1 840.0,1487.4 841.0,1493.9 842.0,1487.3 843.0,1491.7 844.0,1493.8 845.0,1493.4 846.0,1485.4 847.0,1488.2 848.0,1493.2 849.0,1489.9 850.0,1488.3 851.0,1495.4 852.0,1494.0 853.0,1490.8 854.0,1492.1 855.0,1494.0 856.0,1488.5 857.0,1491.2 858.0,1490.2 859.0,1485.7 860.0,1490.4 861.0,1484.3 862.0,1489.9 863.0,1490.4 864.0,1488.6 865.2,1482.6 866.4,1475.5 867.6,1475.3 868.8,1480.0 870.0,1485.4 871.0,1486.1 872.0,1485.6 873.0,1496.5 874.0,1490.9 875.0,1492.0 876.0,1491.3 877.0,1490.7 878.0,1493.7 879.0,1495.0 880.0,1488.8 881.0,1489.5 882.0,1492.7 883.0,1491.8 884.0,1493.2 885.0,1495.0 886.0,1489.4 887.0,1492.7 888.0,1493.7 889.0,1492.1 890.0,1485.9 891.0,1488.9 892.0,1489.3 893.0,1489.5 894.0,1487.4 895.0,1487.8 896.0,1493.3 897.0,1490.7 898.0,1492.0 899.0,1489.9 900.0,1490.8 901.0,1496.1 902.0,1487.9 903.0,1490.4 904.0,1495.8 905.0,1488.3 906.0,1491.2 907.0,1490.5 908.0,1491.9 909.0,1491.7 910.0,1493.7 911.0,1497.0 912.0,1494.3 913.0,1492.2 914.0,1492.5 915.0,1490.7 916.0,1492.4 917.0,1497.7 918.0,1489.4 919.0,1493.2 920.0,1494.3 921.0,1491.4 922.0,1494.0 923.0,1489.4 924.0,1492.8 925.0,1485.2 926.0,1491.0 927.0,1491.9 928.0,1492.2 929.0,1496.3 930.0,1493.0 931.0,1492.9 932.0,1492.0 933.0,1497.3 934.0,1491.6 935.0,1488.6 936.0,1493.4 937.0,1492.6 938.0,1491.4 939.0,1494.7 940.0,1493.6 941.0,1489.8 942.0,1491.6 943.0,1495.2 944.0,1496.5 945.0,1485.7 946.0,1490.6 947.0,1496.0 948.0,1491.5 949.0,1490.2 950.0,1491.7 951.0,1497.0 952.0,1487.1 953.0,1490.1 954.0,1491.9 955.0,1489.2 956.0,1491.2 957.0,1491.1 958.0,1487.5 959.0,1494.8 960.0,1486.8 961.0,1488.4 962.0,1487.5 963.0,1487.3 964.0,1485.8 965.0,1486.4 966.0,1488.2 967.0,1491.9 968.0,1489.2 969.0,1492.4 970.0,1493.7 971.0,1489.9 972.0,1490.1 973.0,1487.9 974.0,1496.7 975.0,1489.5 976.0,1489.4 977.0,1490.8 978.0,1487.2 979.0,1493.5 980.0,1490.3 981.0,1492.2 982.0,1491.1 983.0,1493.5 984.0,1491.0 985.0,1488.4 986.0,1489.5 987.0,1488.6 988.0,1491.2 989.0,1484.7 990.0,1490.3 991.0,1487.4 992.0,1484.9 993.0,1485.1 994.0,1479.1 995.0,1476.1 995.7,1469.5 996.6,1453.6 997.3,1398.8 997.7,1337.5 998.1,1261.0 999.1,1187.2 1000.3,1187.2 1001.3,1260.6 1001.7,1337.4 1002.1,1399.0 1002.8,1455.0 1003.7,1473.7 1004.0,1475.0 1005.0,1479.3 1006.0,1482.2 1007.0,1488.8 1008.0,1481.4 1009.0,1487.6 1010.0,1487.9 1011.0,1489.6 1012.0,1488.9 1013.0,1484.1 1014.0,1492.0 1015.0,1491.4 1016.0,1493.2 1017.0,1492.3 1018.0,1487.2 1019.0,1493.1 1020.0,1492.9 1021.0,1496.6 1022.0,1492.9 1023.0,1491.4 1024.0,1493.2 1025.0,1492.7 1026.0,1489.3 1027.0,1489.7 1028.0,1491.2 1029.0,1492.8 1030.0,1494.7 1031.0,1486.5 1032.0,1495.1 1033.0,1489.6 1034.0,1492.0 1035.0,1493.7 1036.0,1489.7 1037.0,1494.2 1038.0,1489.1 1039.0,1495.3 1040.0,1491.5 1041.0,1489.5 1042.0,1495.5 1043.0,1487.6 1044.0,1490.9 1045.0,1498.9 1046.0,1489.5 1047.0,1488.0 1048.0,1493.5 1049.0,1492.9 1050.0,1490.8 1051.0,1495.9 1052.3,1486.3 1053.5,1480.1 1054.7,1478.6 1055.9,1475.0 1057.1,1492.0 1058.0,1494.0 1059.0,1492.3 1060.0,1489.2 1061.0,1489.8 1062.0,1493.0 1063.0,1492.9 1064.0,1491.0 1065.0,1483.9 1066.0,1488.4 1067.0,1484.8 1068.0,1477.2 1068.9,1467.9 1069.6,1432.1 1070.0,1392.3 1070.4,1341.5 1071.4,1294.0 1072.6,1294.0 1073.6,1341.3 1074.0,1391.1 1074.4,1430.6 1075.1,1465.7 1076.0,1477.9 1077.0,1477.2 1078.4,1465.8 1079.6,1446.3 1080.8,1435.9 1082.0,1447.6 1083.2,1471.0 1084.0,1478.0 1085.0,1482.6 1086.0,1489.0 1087.0,1491.4 1088.0,1488.5 1089.0,1490.9 1090.0,1485.1 1091.0,1488.8 1092.0,1489.8 1093.0,1487.5 1094.0,1492.0 1095.0,1491.4 1096.0,1491.1 1097.0,1489.0 1098.0,1487.3 1099.0,1488.5 1100.0,1488.5 1101.0,1490.9 1102.0,1489.2 1103.0,1490.7 1104.0,1487.0 1105.0,1491.6 1106.0,1490.0 1107.0,1489.1 1108.0,1487.6 1109.0,1491.5 1110.0,1490.2 1111.0,1491.7 1112.0,1493.1 1113.0,1486.7 1114.0,1488.1 1115.0,1492.9 1116.0,1491.2 1117.0,1486.9 1118.0,1489.7 1119.0,1490.4 1120.0,1483.9 1121.0,1487.9 1122.0,1486.2 1123.0,1481.9 1124.0,1482.6 1124.4,1480.7 1125.3,1468.3 1126.0,1433.9 1126.4,1395.4 1126.8,1347.3 1127.8,1301.6 1129.0,1301.6 1130.0,1347.9 1130.4,1395.5 1130.8,1433.4 1131.5,1468.9 1132.4,1483.3 1133.0,1486.3 1134.0,1488.9 1135.0,1492.2 1136.0,1490.0 1137.0,1490.1 1138.0,1487.5 1139.0,1489.4 1140.0,1491.4 1141.0,1486.2 1142.0,1489.7 1143.0,1487.5 1144.0,1484.0 1145.0,1482.4 1146.0,1481.5 1146.6,1475.2 1147.8,1452.9 1149.0,1444.9 1150.2,1452.4 1151.4,1472.5 1152.0,1481.8 1153.0,1481.8 1154.0,1484.2 1155.0,1479.7 1155.9,1476.0 1156.8,1461.8 1157.5,1420.6 1157.9,1375.1 1158.3,1318.5 1159.3,1265.2 1160.5,1265.2 1161.5,1319.2 1161.9,1375.3 1162.3,1420.8 1163.0,1462.1 1163.9,1480.1 1165.0,1480.2 1166.0,1481.2 1167.0,1487.2 1168.0,1484.7 1169.0,1481.9 1170.0,1487.1 1171.0,1486.7 1172.0,1486.9 1173.0,1489.6 1174.0,1488.7 1175.0,1490.6 1176.0,1489.2 1177.0,1491.0 1178.0,1486.8 1179.0,1489.9 1180.0,1487.7 1181.0,1493.4 1182.0,1490.2 1183.0,1488.6 1184.0,1488.2 1185.0,1491.3 1186.0,1489.7 1187.0,1488.8 1188.0,1489.7 1189.0,1489.6 1190.0,1486.9 1191.0,1491.2 1192.0,1492.7 1193.0,1489.2 1194.0,1487.2 1195.0,1493.9 1196.0,1484.4 1197.0,1487.8 1198.0,1486.5 1199.0,1490.3 1200.0,1488.3 1201.0,1483.5 1202.0,1483.4 1203.0,1486.5 1204.0,1488.8 1205.0,1488.1 1206.0,1484.1 1207.0,1489.1 1208.0,1489.5 1209.0,1487.4 1210.0,1484.7 1211.0,1490.1 1212.0,1486.7 1213.0,1487.0 1214.0,1488.1 1215.0,1489.3 1216.0,1487.0 1217.0,1488.4 1218.0,1494.2 1219.0,1486.4 1220.0,1489.7 1221.0,1490.1 1222.0,1491.9 1223.0,1491.7 1224.0,1497.4 1225.0,1491.2 1226.0,1488.8 1227.0,1488.7 1228.0,1491.9 1229.0,1496.2 1230.0,1492.8 1231.0,1490.5 1232.0,1486.2 1233.0,1493.8 1234.0,1489.5 1235.0,1488.0 1236.0,1488.0 1237.0,1490.0 1238.0,1497.2 1239.0,1488.3 1240.0,1489.5 1241.0,1488.4 1242.0,1492.2 1243.0,1490.9 1244.0,1485.7 1245.0,1489.8 1246.0,1489.6 1247.0,1491.4 1248.0,1486.2 1249.0,1493.8 1250.0,1490.8 1251.0,1488.2 1252.0,1489.1 1253.0,1486.2 1254.0,1486.2 1255.4,1479.6 1256.6,1471.7 1257.8,1468.4 1259.0,1475.2 1260.2,1477.8 1261.0,1486.0 1262.0,1482.8 1263.0,1483.0 1264.0,1484.5 1265.0,1487.0 1266.0,1489.6 1267.0,1493.8 1268.0,1486.8 1269.0,1488.7 1270.0,1483.2 1271.0,1488.0 1272.0,1485.0 1273.0,1487.0 1274.0,1484.1 1275.0,1485.2 1276.0,1483.6 1277.0,1487.2 1278.0,1482.0 1279.0,1477.8 1280.0,1470.1 1280.3,1469.7 1281.2,1458.1 1281.9,1411.1 1282.3,1357.3 1282.7,1289.8 1283.7,1226.7 1284.9,1226.7 1285.9,1291.1 1286.3,1358.4 1286.7,1412.4 1287.4,1460.0 1288.3,1475.7 1289.0,1478.9 1290.0,1477.1 1291.0,1478.1 1291.6,1472.4 1292.8,1448.9 1294.0,1439.6 1295.2,1449.9 1296.4,1468.9 1297.0,1475.6 1298.0,1482.2 1299.0,1487.3 1300.0,1486.8 1301.0,1485.5 1302.0,1490.3 1303.0,1485.3 1304.0,1489.2 1305.0,1486.3 1306.0,1484.4 1307.0,1487.0 1308.0,1494.6 1309.0,1489.1 1310.0,1493.4 1311.0,1494.0 1312.0,1493.6 1313.0,1496.0 1314.0,1492.2 1315.0,1494.5 1316.0,1489.5 1317.0,1491.4 1318.0,1499.0 1319.0,1494.7 1320.0,1494.9 1321.0,1494.1 1322.0,1494.2 1323.0,1492.1 1324.0,1493.3 1325.0,1495.9 1326.0,1492.0 1327.0,1490.9 1328.0,1493.4 1329.0,1490.5 1330.0,1492.6 1331.0,1495.4 1332.0,1495.1 1333.0,1494.2 1334.0,1492.9 1335.0,1493.8 1336.0,1491.7 1337.0,1491.1 1338.0,1496.6 1339.0,1496.8 1340.0,1493.8 1341.0,1492.0 1342.0,1490.5 1343.0,1490.9 1344.0,1490.8 1345.0,1494.6 1346.0,1491.0 1347.0,1493.5 1348.0,1490.6 1349.0,1489.3 1350.0,1493.4 1351.0,1492.2 1352.0,1485.0 1353.0,1493.3 1354.0,1492.5 1355.0,1494.0 1356.0,1494.8 1357.0,1488.4 1358.0,1492.8 1359.0,1492.7 1360.0,1493.4 1361.0,1499.0 1362.0,1489.9 1363.0,1493.7 1364.0,1492.7 1365.0,1489.2 1366.0,1493.4 1367.0,1492.9 1368.0,1492.8 1369.0,1489.9 1370.0,1496.8 1371.0,1494.6 1372.0,1498.6 1373.0,1492.6 1374.0,1490.7 1375.0,1493.3 1376.0,1486.7 1377.0,1489.2 1378.0,1486.5 1379.0,1491.2 1380.0,1486.8 1381.0,1492.9 1382.0,1490.5 1383.0,1491.4 1384.0,1493.0 1385.0,1487.8 1386.0,1488.9 1387.0,1494.4 1388.0,1490.8 1389.0,1492.4 1390.0,1492.2 1391.0,1491.0 1392.0,1493.9 1393.0,1492.0 1394.0,1491.7 1395.0,1494.1 1396.0,1493.8 1397.0,1490.2 1398.0,1492.3 1399.0,1486.1 1400.0,1486.6 1401.0,1494.1 1402.0,1491.3 1403.0,1497.4 1404.0,1493.6 1405.0,1494.0 1406.0,1493.4 1407.0,1496.7 1408.0,1490.2 1409.0,1490.3 1410.0,1492.7 1411.0,1490.8 1412.0,1488.2 1413.0,1486.5 1414.0,1494.3 1415.0,1486.8 1416.0,1495.7 1417.0,1493.6 1418.0,1492.7 1419.0,1487.8 1420.0,1490.3 1421.0,1490.2 1422.0,1487.4 1423.0,1490.6 1424.0,1492.0 1425.0,1486.6 1426.0,1490.7 1427.0,1493.1 1428.0,1494.2 1429.0,1489.2 1430.0,1484.8 1431.0,1488.0 1432.0,1490.2 1433.0,1487.6 1434.0,1495.3 1435.0,1490.7 1436.0,1493.7 1437.0,1489.1 1438.0,1495.1 1439.0,1490.9 1440.0,1492.6 1441.0,1493.1 1442.0,1491.2 1443.0,1493.3 1444.0,1489.1 1445.0,1493.3 1446.0,1498.4 1447.0,1488.7 1448.0,1488.8 1449.0,1490.8 1450.0,1488.3 1451.0,1489.9 1452.0,1493.8 1453.0,1496.9 1454.0,1494.2 1455.0,1492.2 1456.0,1490.1 1457.0,1495.3 1458.0,1494.1 1459.0,1487.8 1460.0,1493.6 1461.0,1493.8 1462.0,1494.3 1463.0,1487.6 1464.0,1489.7 1465.0,1489.3 1466.0,1487.2 1467.0,1489.0 1468.0,1488.1 1469.0,1490.7 1470.0,1489.6 1471.0,1491.0 1472.0,1491.5 1473.0,1497.2 1474.0,1495.5 1475.0,1496.6 1476.0,1498.1 1477.0,1497.2 1478.0,1493.1 1479.0,1494.6 1480.0,1496.2 1481.0,1494.9 1482.0,1491.5 1483.0,1497.6 1484.0,1492.7 1485.0,1488.6 1486.0,1487.1 1487.0,1488.5 1487.6,1488.1 1488.8,1489.8 1490.0,1485.3 1491.2,1485.4 1492.4,1487.4 1493.0,1488.0 1494.0,1495.8 1495.0,1491.3 1496.0,1489.1 1497.0,1491.7 1498.0,1490.2 1499.0,1488.2 1500.0,1488.6 1501.0,1488.6 1502.0,1486.6 1503.0,1485.0 1504.0,1487.6 1505.0,1487.8 1506.0,1484.6 1506.6,1482.7 1507.5,1472.2 1508.2,1442.4 1508.6,1410.0 1509.0,1369.3 1510.0,1329.2 1511.2,1329.2 1512.2,1367.5 1512.6,1409.0 1513.0,1442.2 1513.7,1472.8 1514.6,1481.5 1515.0,1481.5 1516.0,1485.7 1517.0,1487.2 1518.0,1486.1 1519.0,1488.2 1520.0,1489.0 1521.0,1487.7 1522.0,1491.2 1523.0,1489.8 1524.0,1495.6 1525.0,1491.5 1526.0,1486.6 1527.0,1491.8 1528.0,1491.0 1529.0,1492.2 1530.0,1493.9 1531.0,1490.0 1532.0,1491.4 1533.0,1488.6 1534.0,1493.9 1535.0,1491.7 1536.0,1492.8 1537.0,1493.5 1538.0,1489.2 1539.0,1493.9 1540.0,1493.9 1541.0,1485.4 1542.0,1492.1 1543.0,1492.4 1544.0,1490.6 1545.0,1494.4 1546.0,1490.9 1547.0,1494.9 1548.0,1493.1 1549.0,1493.5 1550.0,1488.5 1551.0,1490.4 1552.0,1487.2 1553.0,1487.6 1554.0,1493.6 1555.0,1490.3 1556.0,1492.8 1557.0,1493.3 1558.0,1488.6 1559.0,1488.1 1560.0,1491.8 1561.0,1491.6 1562.0,1492.1 1563.0,1492.4 1564.0,1492.7 1565.0,1496.5 1566.0,1492.4 1567.0,1495.7 1568.0,1496.9 1569.0,1493.9 1570.0,1492.5 1571.0,1490.8 1572.0,1491.7 1573.0,1491.9 1574.0,1494.3 1575.0,1491.6 1576.0,1492.1 1577.0,1492.0 1578.0,1494.8 1579.0,1488.4 1580.0,1490.8 1581.0,1490.8 1582.0,1492.1 1583.0,1492.8 1584.0,1489.3 1585.0,1495.0 1586.0,1492.6 1587.0,1492.0 1588.0,1489.8 1589.0,1492.1 1590.0,1487.7 1591.0,1496.1 1592.0,1487.7 1593.0,1491.2 1594.0,1489.8 1595.0,1493.9 1596.0,1490.1 1597.0,1493.8 1598.0,1492.4 1599.0,1497.0 1600.0,1491.8 1601.0,1492.9 1602.0,1498.0 1603.0,1493.3 1604.0,1493.7 1605.0,1490.6 1606.0,1494.5 1607.0,1492.2 1608.0,1489.4 1609.0,1495.2 1610.0,1488.2 1611.0,1492.6 1612.0,1494.0 1613.0,1497.2 1614.0,1498.5 1615.0,1491.5 1616.0,1495.3 1617.0,1495.8 1618.0,1491.5 1619.0,1492.5 1620.0,1493.9 1621.0,1498.0 1622.0,1499.3 1623.0,1491.8 1624.0,1494.3 1625.0,1494.8 1626.0,1489.0 1627.0,1494.9 1628.0,1492.7 1629.0,1487.6 1630.0,1491.2 1631.0,1493.7 1632.0,1493.6 1633.0,1486.0 1634.0,1486.5 1634.6,1478.4 1635.8,1458.4 1637.0,1450.9 1638.2,1458.7 1639.4,1475.1 1640.0,1477.3 1641.0,1485.4 1642.0,1489.0 1643.0,1485.5 1644.0,1484.6 1644.6,1484.7 1645.5,1477.6 1646.2,1454.0 1646.6,1428.6 1647.0,1396.8 1648.0,1366.2 1649.2,1366.2 1650.2,1397.3 1650.6,1428.9 1651.0,1454.0 1651.7,1477.3 1652.6,1486.2 1653.0,1487.7 1654.0,1484.4 1655.0,1487.6 1656.0,1491.9 1657.0,1490.0 1658.0,1488.3 1659.0,1494.8 1660.0,1489.9 1661.0,1490.7 1662.0,1488.6 1663.0,1483.8 1664.0,1490.4 1665.0,1489.2 1666.0,1490.7 1667.0,1485.6 1668.0,1482.8 1668.8,1487.5 1669.7,1473.9 1670.4,1450.5 1670.8,1423.6 1671.2,1390.6 1672.2,1360.2 1673.4,1360.2 1674.4,1390.6 1674.8,1424.3 1675.2,1451.0 1675.9,1470.8 1676.8,1481.2 1677.0,1482.3 1678.0,1479.9 1679.0,1488.0 1680.0,1484.4 1681.0,1487.0 1682.0,1487.6 1683.0,1491.7 1684.0,1488.6 1685.0,1484.5 1686.0,1490.4 1687.0,1490.0 1688.0,1489.8 1689.0,1493.4 1690.0,1490.8 1691.0,1490.5 1692.0,1492.9 1693.0,1497.3 1694.0,1488.5 1695.0,1492.3 1696.0,1492.4 1697.0,1492.7 1698.0,1493.3 1699.0,1495.7 1700.0,1491.0 1701.0,1490.0 1702.0,1487.5 1703.0,1485.5 1704.0,1491.6 1705.0,1485.4 1706.0,1489.5 1707.0,1488.1 1708.0,1492.3 1709.0,1488.8 1710.0,1492.1 1711.0,1487.9 1712.0,1492.9 1713.0,1489.2 1714.0,1490.0 1715.0,1487.6 1716.0,1486.0 1717.0,1484.3 1718.0,1483.3 1718.9,1470.0 1719.6,1440.7 1720.0,1407.1 1720.4,1365.3 1721.4,1325.2 1722.6,1325.2 1723.6,1365.5 1724.0,1407.4 1724.4,1441.2 1725.1,1472.1 1726.0,1482.1 1727.0,1482.3 1728.0,1490.9 1729.0,1484.4 1730.0,1492.6 1731.0,1484.9 1732.0,1486.9 1733.0,1492.3 1734.0,1487.5 1735.0,1489.4 1736.0,1491.9 1737.0,1486.0 1738.0,1486.6 1739.0,1488.8 1740.0,1485.7 1741.0,1490.1 1742.0,1491.6 1743.0,1487.8 1744.0,1493.5 1745.0,1489.8 1746.0,1489.2 1747.0,1491.6 1748.0,1492.0 1749.0,1491.1 1750.0,1491.7 1751.0,1494.2 1752.0,1501.6 1753.0,1493.5 1754.0,1495.8 1755.0,1489.3 1756.0,1493.0 1757.0,1491.1 1758.0,1489.8 1759.0,1489.1 1760.0,1494.4 1761.0,1486.4 1762.0,1489.8 1763.0,1490.6 1764.0,1494.8 1765.0,1487.1 1766.0,1490.7 1767.0,1489.5 1768.0,1493.3 1769.0,1487.6 1770.0,1488.8 1771.0,1493.1 1772.0,1487.8 1773.0,1496.0 1774.0,1491.1 1775.0,1491.7 1776.0,1491.6 1777.0,1495.3 1778.0,1494.3 1779.0,1490.6 1780.0,1490.1 1781.0,1492.7 1782.0,1492.9 1783.0,1493.3 1784.0,1488.1 1785.0,1491.7 1786.0,1492.7 1787.0,1496.3 1788.0,1496.1 1789.0,1494.6 1790.0,1497.2 1791.0,1493.1 1792.0,1492.5 1793.0,1493.4 1794.1,1487.5 1795.3,1478.2 1796.5,1470.3 1797.7,1481.5 1798.9,1483.1 1800.0,1495.5 1801.0,1492.6 1802.0,1494.1 1803.0,1492.2 1804.0,1495.0 1805.0,1491.5 1806.0,1496.8 1807.0,1490.4 1808.0,1492.9 1809.0,1491.0 1810.0,1489.1 1811.0,1494.9 1812.0,1493.3 1813.0,1493.8 1814.0,1492.3 1815.0,1491.8 1816.0,1490.5 1817.0,1492.1 1818.0,1493.3 1819.0,1491.6 1820.0,1490.4 1821.0,1490.6 1822.0,1487.6 1823.0,1494.6 1824.0,1492.2 1825.0,1496.1 1826.0,1494.1 1827.0,1490.3 1828.0,1488.3 1829.0,1492.6 1830.0,1489.7 1831.0,1490.4 1832.0,1489.0 1833.0,1489.4 1834.0,1490.9 1835.0,1495.2 1836.0,1493.0 1837.0,1487.8 1838.0,1489.0 1839.0,1483.4 1840.0,1488.9 1841.0,1487.0 1842.0,1492.9 1843.0,1493.9 1844.0,1490.2 1845.0,1486.9 1846.0,1490.9 1847.0,1493.4 1848.0,1492.0 1849.0,1491.8 1850.0,1492.5 1851.0,1493.8 1852.0,1496.7 1853.0,1496.8 1854.0,1495.0 1855.0,1493.8 1856.0,1496.7 1857.0,1488.8 1858.0,1491.2 1859.0,1493.9 1860.0,1490.4 1861.0,1486.0 1862.0,1491.7 1863.0,1491.8 1864.0,1489.9 1865.0,1496.2 1866.0,1494.2 1867.0,1494.8 1868.0,1490.7 1869.0,1497.0 1870.0,1491.5 1871.0,1493.2 1872.0,1492.4 1873.0,1492.8 1874.0,1487.2 1875.0,1493.0 1876.0,1493.8 1877.0,1489.9 1878.0,1492.3 1879.0,1489.7 1880.0,1491.4 1881.0,1491.5 1882.0,1491.8 1883.0,1496.6 1884.0,1497.7 1885.0,1487.3 1886.0,1495.7 1887.0,1491.2 1888.0,1495.4 1889.0,1492.5 1890.0,1492.7 1891.0,1487.9 1892.0,1492.1 1893.0,1495.4 1894.0,1495.1 1895.0,1490.7 1896.0,1489.4 1897.0,1486.7 1898.0,1486.7 1899.0,1496.2 1900.0,1493.1 1901.0,1496.1 1902.0,1492.3 1903.0,1490.9 1904.0,1497.7 1905.0,1490.4 1906.0,1490.5 1907.0,1492.7 1908.0,1493.3 1909.0,1487.2 1910.0,1491.7 1911.0,1494.1 1912.0,1490.8 1913.0,1488.3 1914.0,1489.0 1915.0,1495.6 1916.0,1493.8 1917.0,1491.1 1918.0,1489.3 1919.0,1489.1 1920.0,1492.3 1921.0,1486.2 1922.0,1487.3 1923.0,1491.8 1924.0,1489.0 1925.0,1484.9 1925.4,1485.5 1926.3,1476.9 1927.0,1442.6 1927.4,1408.5 1927.8,1365.8 1928.8,1325.1 1930.0,1325.3 1931.0,1365.4 1931.4,1408.9 1931.8,1444.0 1932.5,1476.3 1933.4,1486.0 1934.0,1489.1 1935.0,1486.3 1936.0,1488.7 1937.0,1492.8 1938.0,1494.8 1939.0,1491.6 1940.0,1494.1 1941.0,1497.2 1942.0,1496.8 1943.0,1494.8 1944.0,1489.1 1945.0,1492.3 1946.0,1491.8 1947.0,1493.2 1948.0,1492.3 1949.0,1492.2 1950.0,1499.1 1951.0,1494.8 1952.0,1494.8 1953.0,1495.2 1954.0,1495.4 1955.0,1503.2 1956.0,1496.4 1957.0,1500.7 1958.0,1495.0 1959.0,1499.1 1960.0,1498.7 1961.0,1498.2 1962.0,1503.3 1963.0,1498.2 1964.0,1500.7 1965.0,1494.6 1966.0,1498.3 1967.0,1499.6 1968.0,1493.3 1969.0,1497.4 1970.0,1499.2 1971.0,1497.3 1972.0,1497.8 1973.0,1497.1 1974.0,1500.7 1975.0,1495.5 1976.0,1497.6 1977.0,1494.2 1978.0,1496.9 1979.0,1500.7 1980.0,1495.1 1981.0,1498.1 1982.0,1496.8 1983.0,1503.1 1984.0,1499.5 1985.0,1492.1 1986.0,1492.4 1987.0,1499.6 1988.0,1493.9 1989.0,1493.7 1990.0,1491.2 1991.0,1497.0 1992.0,1498.4 1993.0,1492.5 1994.0,1493.8 1995.0,1491.8 1995.7,1490.8 1996.6,1480.2 1997.3,1458.5 1997.7,1434.2 1998.1,1403.4 1999.1,1373.9 2000.3,1373.7 2001.3,1402.6 2001.7,1433.2 2002.1,1457.6 2002.8,1477.4 2003.7,1486.1 2004.0,1487.4 2005.0,1490.6 2006.0,1489.2 2007.0,1493.9 2008.0,1490.7 2009.0,1488.3 2010.0,1496.1 2011.0,1497.4 2012.0,1490.9 2013.0,1495.2 2014.0,1494.3 2015.0,1492.8 2016.0,1494.9 2017.0,1493.0 2018.0,1495.8 2019.0,1494.6 2020.0,1493.3 2021.0,1491.3 2022.0,1493.2 2023.4,1486.8 2024.6,1478.5 2025.8,1477.9 2027.0,1477.9 2028.2,1491.4 2029.0,1490.8 2030.0,1493.3 2031.0,1494.5 2032.0,1498.7 2033.0,1495.2 2034.0,1496.8 2035.0,1501.3 2036.0,1499.5 2037.0,1502.4 2038.0,1498.4 2039.0,1496.1 2040.0,1497.8 2041.0,1502.7 2042.0,1502.7 2043.0,1500.6 2044.0,1500.4 2045.0,1498.1 2046.0,1500.9 2047.0,1497.1 2048.0,1501.5 2049.0,1497.5 2050.0,1504.1 2051.0,1502.0 2052.0,1500.8 2053.0,1499.1 2054.0,1500.3 2055.0,1502.4 2056.0,1502.1 2057.0,1497.2 2058.0,1495.8 2059.0,1496.7 2060.0,1495.8 2061.0,1499.2 2062.0,1494.3 2063.0,1493.0 2064.0,1497.7 2065.0,1497.5 2066.0,1492.0 2067.0,1492.4 2068.0,1497.3 2069.0,1497.1 2070.0,1499.9 2071.0,1494.2 2072.0,1495.1 2073.0,1495.5 2074.0,1489.7 2075.0,1495.8 2076.0,1496.6 2077.0,1496.5 2078.0,1498.5 2079.0,1496.0 2080.0,1500.3 2081.0,1499.3 2082.0,1493.7 2083.0,1501.0 2084.0,1502.6 2085.0,1499.2 2086.0,1501.3 2087.0,1501.4 2088.0,1499.3 2089.0,1497.8 2090.0,1504.0 2091.0,1500.5 2092.0,1505.3 2093.0,1497.3 2094.0,1502.2 2095.0,1497.7 2096.0,1494.5 2097.0,1495.4 2098.0,1497.6 2099.0,1503.6 2100.0,1493.2 2101.0,1499.0 2102.0,1495.7 2103.0,1499.0 2104.0,1498.2 2105.0,1493.4 2106.0,1501.9 2107.0,1501.0 2108.0,1498.8 2109.0,1495.6 2110.0,1505.2 2111.0,1495.7 2112.0,1500.3 2113.0,1497.6 2114.0,1492.7 2115.0,1498.2 2116.0,1496.6 2117.0,1495.8 2118.0,1500.1 2119.0,1498.8 2120.0,1499.4 2121.0,1498.3 2122.0,1499.6 2123.0,1500.1 2124.0,1500.5" stroke-width="4.4" stroke-linejoin="round"/><path d="M57.3,1476.4L59.3,1469.2L61.3,1476.4ZM58.0,1494.5L60.0,1500.1L62.0,1494.5ZM71.0,1492.1L73.0,1497.4L75.0,1492.1ZM77.0,1498.2L79.0,1490.0L81.0,1498.2ZM78.0,1498.0L80.0,1491.9L82.0,1498.0ZM79.0,1495.8L81.0,1488.4L83.0,1495.8ZM82.0,1498.9L84.0,1493.4L86.0,1498.9ZM87.0,1496.8L89.0,1486.9L91.0,1496.8ZM88.0,1498.0L90.0,1510.9L92.0,1498.0ZM89.0,1497.8L91.0,1511.4L93.0,1497.8ZM96.0,1488.9L98.0,1473.7L100.0,1488.9ZM103.0,1488.8L105.0,1478.9L107.0,1488.8ZM119.0,1477.8L121.0,1490.1L123.0,1477.8ZM120.0,1483.7L122.0,1468.4L124.0,1483.7ZM121.0,1489.2L123.0,1496.9L125.0,1489.2ZM123.0,1495.0L125.0,1500.6L127.0,1495.0ZM129.0,1497.2L131.0,1491.6L133.0,1497.2ZM131.0,1495.3L133.0,1489.3L135.0,1495.3ZM132.0,1500.6L134.0,1516.6L136.0,1500.6ZM133.0,1494.1L135.0,1501.6L137.0,1494.1ZM136.0,1495.9L138.0,1490.0L140.0,1495.9ZM138.0,1497.3L140.0,1505.4L142.0,1497.3ZM142.0,1490.1L144.0,1499.4L146.0,1490.1ZM143.0,1489.0L145.0,1480.4L147.0,1489.0ZM148.0,1492.9L150.0,1498.9L152.0,1492.9ZM150.0,1494.2L152.0,1488.5L154.0,1494.2ZM151.0,1494.7L153.0,1486.5L155.0,1494.7ZM152.0,1496.7L154.0,1506.7L156.0,1496.7ZM153.0,1495.1L155.0,1489.0L157.0,1495.1ZM154.0,1496.9L156.0,1491.6L158.0,1496.9ZM159.0,1500.7L161.0,1511.6L163.0,1500.7ZM160.0,1497.5L162.0,1514.5L164.0,1497.5ZM164.0,1495.3L166.0,1508.6L168.0,1495.3ZM168.0,1498.5L170.0,1489.6L172.0,1498.5ZM169.0,1496.5L171.0,1501.9L173.0,1496.5ZM171.0,1493.2L173.0,1476.2L175.0,1493.2ZM173.0,1496.3L175.0,1502.0L177.0,1496.3ZM175.0,1498.5L177.0,1488.9L179.0,1498.5ZM180.3,1490.5L182.3,1493.4L184.3,1490.5ZM181.2,1482.2L183.2,1488.2L185.2,1482.2ZM187.4,1484.6L189.4,1482.4L191.4,1484.6ZM189.0,1492.8L191.0,1503.6L193.0,1492.8ZM199.0,1491.0L201.0,1499.9L203.0,1491.0ZM200.0,1488.1L202.0,1478.6L204.0,1488.1ZM201.0,1489.0L203.0,1480.1L205.0,1489.0ZM203.0,1493.4L205.0,1498.7L207.0,1493.4ZM207.0,1495.8L209.0,1501.3L211.0,1495.8ZM209.0,1496.6L211.0,1505.3L213.0,1496.6ZM210.0,1493.0L212.0,1512.0L214.0,1493.0ZM214.0,1493.3L216.0,1499.5L218.0,1493.3ZM218.0,1493.3L220.0,1500.5L222.0,1493.3ZM219.0,1494.4L221.0,1489.3L223.0,1494.4ZM220.0,1498.6L222.0,1482.6L224.0,1498.6ZM223.0,1491.4L225.0,1486.0L227.0,1491.4ZM226.0,1495.8L228.0,1490.0L230.0,1495.8ZM227.0,1500.0L229.0,1491.7L231.0,1500.0ZM229.0,1496.3L231.0,1488.0L233.0,1496.3ZM233.0,1494.7L235.0,1500.2L237.0,1494.7ZM234.0,1493.1L236.0,1487.7L238.0,1493.1ZM236.0,1489.3L238.0,1483.6L240.0,1489.3ZM240.0,1497.3L242.0,1486.8L244.0,1497.3ZM242.0,1497.3L244.0,1504.3L246.0,1497.3ZM243.0,1497.5L245.0,1503.6L247.0,1497.5ZM246.0,1490.4L248.0,1495.7L250.0,1490.4ZM248.0,1492.9L250.0,1487.1L252.0,1492.9ZM250.0,1492.1L252.0,1508.4L254.0,1492.1ZM251.0,1492.4L253.0,1486.9L255.0,1492.4ZM252.0,1490.1L254.0,1495.2L256.0,1490.1ZM257.0,1491.2L259.0,1485.8L261.0,1491.2ZM260.0,1484.8L262.0,1492.2L264.0,1484.8ZM261.0,1494.1L263.0,1510.0L265.0,1494.1ZM265.0,1476.5L267.0,1469.7L269.0,1476.5ZM274.0,1470.3L276.0,1476.8L278.0,1470.3ZM275.0,1473.3L277.0,1481.4L279.0,1473.3ZM281.0,1490.0L283.0,1484.3L285.0,1490.0ZM282.6,1479.7L284.6,1476.6L286.6,1479.7ZM287.4,1479.5L289.4,1477.4L291.4,1479.5ZM288.0,1481.9L290.0,1476.6L292.0,1481.9ZM294.0,1489.5L296.0,1479.2L298.0,1489.5ZM295.0,1491.3L297.0,1485.9L299.0,1491.3ZM297.0,1487.8L299.0,1494.8L301.0,1487.8ZM298.0,1493.3L300.0,1507.7L302.0,1493.3ZM301.0,1488.9L303.0,1496.3L305.0,1488.9ZM303.0,1489.6L305.0,1483.6L307.0,1489.6ZM307.0,1493.4L309.0,1499.1L311.0,1493.4ZM308.0,1495.3L310.0,1489.4L312.0,1495.3ZM313.0,1492.3L315.0,1502.1L317.0,1492.3ZM315.0,1490.5L317.0,1497.9L319.0,1490.5ZM316.0,1493.2L318.0,1498.2L320.0,1493.2ZM318.0,1489.0L320.0,1497.9L322.0,1489.0ZM319.0,1491.0L321.0,1496.1L323.0,1491.0ZM321.0,1489.1L323.0,1478.9L325.0,1489.1ZM327.0,1490.4L329.0,1483.9L331.0,1490.4ZM329.0,1481.3L331.0,1489.8L333.0,1481.3ZM353.0,1484.5L355.0,1474.3L357.0,1484.5ZM359.0,1487.5L361.0,1493.0L363.0,1487.5ZM363.0,1489.0L365.0,1480.0L367.0,1489.0ZM364.0,1491.9L366.0,1478.9L368.0,1491.9ZM366.0,1494.2L368.0,1501.0L370.0,1494.2ZM370.0,1486.5L372.0,1476.7L374.0,1486.5ZM371.0,1491.1L373.0,1505.7L375.0,1491.1ZM372.0,1487.2L374.0,1473.3L376.0,1487.2ZM373.0,1491.4L375.0,1476.6L377.0,1491.4ZM378.2,1467.8L380.2,1466.3L382.2,1467.8ZM383.0,1490.1L385.0,1500.4L387.0,1490.1ZM385.0,1488.4L387.0,1483.3L389.0,1488.4ZM388.0,1490.9L390.0,1479.6L392.0,1490.9ZM390.0,1492.7L392.0,1501.2L394.0,1492.7ZM391.0,1487.3L393.0,1493.0L395.0,1487.3ZM399.0,1481.3L401.0,1498.5L403.0,1481.3ZM412.0,1480.7L414.0,1468.9L416.0,1480.7ZM415.0,1484.3L417.0,1492.2L419.0,1484.3ZM421.0,1488.6L423.0,1482.2L425.0,1488.6ZM422.0,1492.6L424.0,1498.7L426.0,1492.6ZM425.0,1487.2L427.0,1502.4L429.0,1487.2ZM426.0,1490.3L428.0,1484.2L430.0,1490.3ZM429.0,1491.3L431.0,1500.8L433.0,1491.3ZM431.0,1487.6L433.0,1479.7L435.0,1487.6ZM432.0,1491.8L434.0,1498.9L436.0,1491.8ZM435.0,1488.6L437.0,1483.6L439.0,1488.6ZM436.0,1490.2L438.0,1495.4L440.0,1490.2ZM437.0,1491.9L439.0,1484.9L441.0,1491.9ZM438.0,1494.0L440.0,1485.4L442.0,1494.0ZM440.0,1495.9L442.0,1503.0L444.0,1495.9ZM442.0,1493.8L444.0,1484.3L446.0,1493.8ZM444.0,1495.7L446.0,1500.8L448.0,1495.7ZM452.0,1501.0L454.0,1496.0L456.0,1501.0ZM462.0,1489.5L464.0,1495.5L466.0,1489.5ZM464.0,1494.5L466.0,1488.0L468.0,1494.5ZM465.0,1495.3L467.0,1487.3L469.0,1495.3ZM471.0,1493.0L473.0,1504.3L475.0,1493.0ZM472.0,1495.4L474.0,1489.4L476.0,1495.4ZM473.0,1490.8L475.0,1502.7L477.0,1490.8ZM478.0,1495.5L480.0,1500.9L482.0,1495.5ZM479.0,1490.5L481.0,1483.3L483.0,1490.5ZM481.0,1488.3L483.0,1475.0L485.0,1488.3ZM488.0,1490.3L490.0,1502.4L492.0,1490.3ZM490.0,1489.7L492.0,1483.2L494.0,1489.7ZM495.0,1493.4L497.0,1486.4L499.0,1493.4ZM496.0,1496.8L498.0,1503.2L500.0,1496.8ZM498.0,1491.9L500.0,1499.7L502.0,1491.9ZM500.0,1495.6L502.0,1504.2L504.0,1495.6ZM502.0,1486.7L504.0,1478.2L506.0,1486.7ZM504.0,1492.1L506.0,1497.3L508.0,1492.1ZM506.0,1490.9L508.0,1497.6L510.0,1490.9ZM509.0,1492.4L511.0,1503.1L513.0,1492.4ZM510.0,1486.1L512.0,1492.9L514.0,1486.1ZM511.0,1489.5L513.0,1483.5L515.0,1489.5ZM515.0,1489.8L517.0,1481.9L519.0,1489.8ZM519.0,1490.6L521.0,1496.8L523.0,1490.6ZM527.0,1488.1L529.0,1481.2L531.0,1488.1ZM528.0,1490.1L530.0,1475.8L532.0,1490.1ZM534.0,1492.4L536.0,1498.7L538.0,1492.4ZM535.0,1488.5L537.0,1479.7L539.0,1488.5ZM536.0,1493.0L538.0,1498.3L540.0,1493.0ZM541.0,1493.0L543.0,1481.2L545.0,1493.0ZM544.0,1491.7L546.0,1501.1L548.0,1491.7ZM548.0,1488.9L550.0,1493.9L552.0,1488.9ZM550.0,1487.6L552.0,1482.3L554.0,1487.6ZM553.0,1490.4L555.0,1484.1L557.0,1490.4ZM555.0,1491.1L557.0,1506.4L559.0,1491.1ZM558.0,1490.3L560.0,1481.7L562.0,1490.3ZM559.0,1488.3L561.0,1494.8L563.0,1488.3ZM560.0,1487.9L562.0,1470.5L564.0,1487.9ZM562.0,1493.0L564.0,1505.7L566.0,1493.0ZM563.0,1488.1L565.0,1478.4L567.0,1488.1ZM564.0,1482.9L566.0,1492.5L568.0,1482.9ZM565.0,1480.3L567.0,1470.0L569.0,1480.3ZM565.9,1480.1L567.9,1485.0L569.9,1480.1ZM576.0,1482.9L578.0,1492.2L580.0,1482.9ZM577.0,1482.1L579.0,1476.9L581.0,1482.1ZM578.0,1486.8L580.0,1475.1L582.0,1486.8ZM585.0,1484.2L587.0,1497.1L589.0,1484.2ZM586.0,1490.9L588.0,1504.1L590.0,1490.9ZM587.0,1488.1L589.0,1482.5L591.0,1488.1ZM590.0,1488.3L592.0,1499.7L594.0,1488.3ZM592.0,1488.4L594.0,1493.5L596.0,1488.4ZM593.0,1486.8L595.0,1475.6L597.0,1486.8ZM594.0,1493.4L596.0,1488.2L598.0,1493.4ZM598.0,1492.1L600.0,1484.6L602.0,1492.1ZM600.0,1490.2L602.0,1503.6L604.0,1490.2ZM601.0,1485.8L603.0,1479.9L605.0,1485.8ZM602.0,1492.7L604.0,1501.4L606.0,1492.7ZM605.0,1489.1L607.0,1498.6L609.0,1489.1ZM608.0,1495.3L610.0,1489.5L612.0,1495.3ZM609.0,1490.4L611.0,1476.2L613.0,1490.4ZM610.0,1489.3L612.0,1471.7L614.0,1489.3ZM611.0,1496.4L613.0,1502.6L615.0,1496.4ZM614.0,1492.1L616.0,1497.6L618.0,1492.1ZM615.0,1489.5L617.0,1498.2L619.0,1489.5ZM618.0,1490.2L620.0,1482.6L622.0,1490.2ZM620.0,1488.5L622.0,1493.7L624.0,1488.5ZM623.0,1489.1L625.0,1495.6L627.0,1489.1ZM625.0,1492.7L627.0,1486.6L629.0,1492.7ZM626.0,1493.5L628.0,1506.9L630.0,1493.5ZM630.0,1484.5L632.0,1489.6L634.0,1484.5ZM632.0,1487.2L634.0,1502.4L636.0,1487.2ZM634.0,1484.6L636.0,1492.2L638.0,1484.6ZM637.0,1486.6L639.0,1499.0L641.0,1486.6ZM638.0,1484.3L640.0,1470.9L642.0,1484.3ZM639.0,1484.2L641.0,1492.7L643.0,1484.2ZM642.0,1486.2L644.0,1479.3L646.0,1486.2ZM643.0,1486.8L645.0,1480.4L647.0,1486.8ZM649.0,1494.7L651.0,1488.0L653.0,1494.7ZM652.0,1490.3L654.0,1504.2L656.0,1490.3ZM653.0,1493.3L655.0,1501.0L657.0,1493.3ZM655.0,1488.9L657.0,1483.2L659.0,1488.9ZM659.0,1484.5L661.0,1479.3L663.0,1484.5ZM663.0,1475.4L665.0,1468.7L667.0,1475.4ZM672.0,1484.0L674.0,1478.6L676.0,1484.0ZM675.0,1489.4L677.0,1483.7L679.0,1489.4ZM678.0,1473.7L680.0,1463.0L682.0,1473.7ZM688.0,1470.9L690.0,1465.3L692.0,1470.9ZM696.0,1477.1L698.0,1483.6L700.0,1477.1ZM697.0,1478.2L699.0,1484.0L701.0,1478.2ZM698.0,1482.3L700.0,1474.7L702.0,1482.3ZM699.0,1483.3L701.0,1495.8L703.0,1483.3ZM705.0,1486.5L707.0,1480.4L709.0,1486.5ZM706.0,1484.2L708.0,1492.9L710.0,1484.2ZM720.5,1477.5L722.5,1468.6L724.5,1477.5ZM721.4,1484.4L723.4,1479.9L725.4,1484.4ZM723.0,1493.6L725.0,1483.8L727.0,1493.6ZM728.0,1488.8L730.0,1479.6L732.0,1488.8ZM729.0,1490.3L731.0,1495.7L733.0,1490.3ZM735.0,1496.3L737.0,1487.5L739.0,1496.3ZM738.0,1482.2L740.0,1476.0L742.0,1482.2ZM739.0,1492.9L741.0,1502.4L743.0,1492.9ZM745.0,1494.8L747.0,1489.3L749.0,1494.8ZM746.0,1491.9L748.0,1478.4L750.0,1491.9ZM748.0,1494.1L750.0,1505.2L752.0,1494.1ZM752.0,1492.9L754.0,1486.9L756.0,1492.9ZM754.0,1488.3L756.0,1482.2L758.0,1488.3ZM758.0,1495.2L760.0,1490.0L762.0,1495.2ZM759.0,1489.3L761.0,1495.8L763.0,1489.3ZM765.0,1489.8L767.0,1494.9L769.0,1489.8ZM768.0,1490.7L770.0,1485.2L772.0,1490.7ZM772.2,1484.8L774.2,1478.5L776.2,1484.8ZM779.0,1486.9L781.0,1493.4L783.0,1486.9ZM780.0,1493.9L782.0,1483.7L784.0,1493.9ZM783.0,1488.7L785.0,1483.5L787.0,1488.7ZM786.0,1486.2L788.0,1480.4L790.0,1486.2ZM788.0,1487.0L790.0,1495.5L792.0,1487.0ZM789.0,1487.3L791.0,1471.8L793.0,1487.3ZM793.0,1493.5L795.0,1487.5L797.0,1493.5ZM797.0,1491.4L799.0,1485.0L801.0,1491.4ZM801.0,1497.8L803.0,1503.5L805.0,1497.8ZM802.0,1498.9L804.0,1489.6L806.0,1498.9ZM804.0,1494.6L806.0,1502.1L808.0,1494.6ZM810.0,1494.9L812.0,1488.3L814.0,1494.9ZM815.0,1492.7L817.0,1505.6L819.0,1492.7ZM818.0,1494.6L820.0,1500.5L822.0,1494.6ZM821.0,1495.9L823.0,1502.7L825.0,1495.9ZM823.0,1490.8L825.0,1499.0L827.0,1490.8ZM824.0,1490.8L826.0,1496.7L828.0,1490.8ZM827.0,1490.4L829.0,1496.3L831.0,1490.4ZM830.0,1491.4L832.0,1482.8L834.0,1491.4ZM831.0,1489.9L833.0,1502.8L835.0,1489.9ZM832.0,1489.0L834.0,1483.7L836.0,1489.0ZM834.0,1495.5L836.0,1504.6L838.0,1495.5ZM841.0,1491.7L843.0,1483.6L845.0,1491.7ZM842.0,1493.8L844.0,1486.7L846.0,1493.8ZM845.0,1488.2L847.0,1481.5L849.0,1488.2ZM849.0,1495.4L851.0,1501.3L853.0,1495.4ZM854.0,1488.5L856.0,1497.7L858.0,1488.5ZM856.0,1490.2L858.0,1485.1L860.0,1490.2ZM857.0,1485.7L859.0,1499.7L861.0,1485.7ZM859.0,1484.3L861.0,1479.0L863.0,1484.3ZM860.0,1489.9L862.0,1497.5L864.0,1489.9ZM861.0,1490.4L863.0,1481.0L865.0,1490.4ZM863.2,1482.6L865.2,1487.8L867.2,1482.6ZM864.4,1475.5L866.4,1476.3L868.4,1475.5ZM865.6,1475.3L867.6,1472.9L869.6,1475.3ZM871.0,1496.5L873.0,1489.4L875.0,1496.5ZM872.0,1490.9L874.0,1503.5L876.0,1490.9ZM873.0,1492.0L875.0,1484.0L877.0,1492.0ZM876.0,1493.7L878.0,1499.8L880.0,1493.7ZM877.0,1495.0L879.0,1500.3L881.0,1495.0ZM879.0,1489.5L881.0,1484.5L883.0,1489.5ZM880.0,1492.7L882.0,1487.4L884.0,1492.7ZM882.0,1493.2L884.0,1499.0L886.0,1493.2ZM885.0,1492.7L887.0,1498.7L889.0,1492.7ZM886.0,1493.7L888.0,1502.0L890.0,1493.7ZM887.0,1492.1L889.0,1499.7L891.0,1492.1ZM888.0,1485.9L890.0,1475.0L892.0,1485.9ZM891.0,1489.5L893.0,1481.5L895.0,1489.5ZM896.0,1492.0L898.0,1500.0L900.0,1492.0ZM897.0,1489.9L899.0,1484.1L901.0,1489.9ZM898.0,1490.8L900.0,1479.8L902.0,1490.8ZM901.0,1490.4L903.0,1484.5L905.0,1490.4ZM902.0,1495.8L904.0,1489.8L906.0,1495.8ZM905.0,1490.5L907.0,1485.5L909.0,1490.5ZM908.0,1493.7L910.0,1480.3L912.0,1493.7ZM910.0,1494.3L912.0,1500.4L914.0,1494.3ZM915.0,1497.7L917.0,1478.7L919.0,1497.7ZM917.0,1493.2L919.0,1498.8L921.0,1493.2ZM919.0,1491.4L921.0,1476.3L923.0,1491.4ZM921.0,1489.4L923.0,1480.1L925.0,1489.4ZM924.0,1491.0L926.0,1484.9L928.0,1491.0ZM925.0,1491.9L927.0,1497.2L929.0,1491.9ZM926.0,1492.2L928.0,1483.8L930.0,1492.2ZM929.0,1492.9L931.0,1499.6L933.0,1492.9ZM930.0,1492.0L932.0,1498.9L934.0,1492.0ZM932.0,1491.6L934.0,1484.4L936.0,1491.6ZM935.0,1492.6L937.0,1483.7L939.0,1492.6ZM937.0,1494.7L939.0,1502.3L941.0,1494.7ZM940.0,1491.6L942.0,1497.0L944.0,1491.6ZM949.0,1497.0L951.0,1503.8L953.0,1497.0ZM950.0,1487.1L952.0,1480.0L954.0,1487.1ZM951.0,1490.1L953.0,1495.5L955.0,1490.1ZM952.0,1491.9L954.0,1500.7L956.0,1491.9ZM955.0,1491.1L957.0,1497.5L959.0,1491.1ZM956.0,1487.5L958.0,1482.2L960.0,1487.5ZM957.0,1494.8L959.0,1504.8L961.0,1494.8ZM960.0,1487.5L962.0,1493.3L964.0,1487.5ZM962.0,1485.8L964.0,1491.0L966.0,1485.8ZM964.0,1488.2L966.0,1494.3L968.0,1488.2ZM968.0,1493.7L970.0,1482.2L972.0,1493.7ZM971.0,1487.9L973.0,1480.9L975.0,1487.9ZM976.0,1487.2L978.0,1498.8L980.0,1487.2ZM978.0,1490.3L980.0,1495.9L982.0,1490.3ZM979.0,1492.2L981.0,1498.0L983.0,1492.2ZM983.0,1488.4L985.0,1499.6L987.0,1488.4ZM988.0,1490.3L990.0,1485.1L992.0,1490.3ZM989.0,1487.4L991.0,1482.2L993.0,1487.4ZM990.0,1484.9L992.0,1478.3L994.0,1484.9ZM993.7,1469.5L995.7,1477.6L997.7,1469.5ZM1001.7,1473.7L1003.7,1469.0L1005.7,1473.7ZM1002.0,1475.0L1004.0,1468.2L1006.0,1475.0ZM1009.0,1489.6L1011.0,1484.2L1013.0,1489.6ZM1010.0,1488.9L1012.0,1474.3L1014.0,1488.9ZM1015.0,1492.3L1017.0,1486.8L1019.0,1492.3ZM1017.0,1493.1L1019.0,1500.1L1021.0,1493.1ZM1021.0,1491.4L1023.0,1499.0L1025.0,1491.4ZM1024.0,1489.3L1026.0,1497.6L1028.0,1489.3ZM1030.0,1495.1L1032.0,1507.7L1034.0,1495.1ZM1032.0,1492.0L1034.0,1481.2L1036.0,1492.0ZM1033.0,1493.7L1035.0,1487.5L1037.0,1493.7ZM1035.0,1494.2L1037.0,1484.2L1039.0,1494.2ZM1041.0,1487.6L1043.0,1492.7L1045.0,1487.6ZM1043.0,1498.9L1045.0,1512.8L1047.0,1498.9ZM1044.0,1489.5L1046.0,1480.3L1048.0,1489.5ZM1046.0,1493.5L1048.0,1498.8L1050.0,1493.5ZM1047.0,1492.9L1049.0,1487.1L1051.0,1492.9ZM1049.0,1495.9L1051.0,1509.3L1053.0,1495.9ZM1050.3,1486.3L1052.3,1480.8L1054.3,1486.3ZM1052.7,1478.6L1054.7,1486.4L1056.7,1478.6ZM1053.9,1475.0L1055.9,1471.6L1057.9,1475.0ZM1055.1,1492.0L1057.1,1496.8L1059.1,1492.0ZM1057.0,1492.3L1059.0,1500.1L1061.0,1492.3ZM1058.0,1489.2L1060.0,1494.4L1062.0,1489.2ZM1066.0,1477.2L1068.0,1470.9L1070.0,1477.2ZM1066.9,1467.9L1068.9,1467.3L1070.9,1467.9ZM1075.0,1477.2L1077.0,1482.8L1079.0,1477.2ZM1076.4,1465.8L1078.4,1464.7L1080.4,1465.8ZM1081.2,1471.0L1083.2,1479.1L1085.2,1471.0ZM1082.0,1478.0L1084.0,1483.3L1086.0,1478.0ZM1083.0,1482.6L1085.0,1489.7L1087.0,1482.6ZM1086.0,1488.5L1088.0,1494.4L1090.0,1488.5ZM1088.0,1485.1L1090.0,1494.6L1092.0,1485.1ZM1090.0,1489.8L1092.0,1481.8L1094.0,1489.8ZM1093.0,1491.4L1095.0,1499.6L1097.0,1491.4ZM1094.0,1491.1L1096.0,1501.3L1098.0,1491.1ZM1101.0,1490.7L1103.0,1497.0L1105.0,1490.7ZM1109.0,1491.7L1111.0,1497.9L1113.0,1491.7ZM1113.0,1492.9L1115.0,1499.5L1117.0,1492.9ZM1114.0,1491.2L1116.0,1482.9L1118.0,1491.2ZM1116.0,1489.7L1118.0,1482.7L1120.0,1489.7ZM1117.0,1490.4L1119.0,1484.1L1121.0,1490.4ZM1118.0,1483.9L1120.0,1490.5L1122.0,1483.9ZM1120.0,1486.2L1122.0,1494.7L1124.0,1486.2ZM1130.4,1483.3L1132.4,1486.5L1134.4,1483.3ZM1131.0,1486.3L1133.0,1494.4L1135.0,1486.3ZM1137.0,1489.4L1139.0,1494.7L1141.0,1489.4ZM1140.0,1489.7L1142.0,1483.8L1144.0,1489.7ZM1141.0,1487.5L1143.0,1493.4L1145.0,1487.5ZM1142.0,1484.0L1144.0,1478.2L1146.0,1484.0ZM1144.0,1481.5L1146.0,1487.6L1148.0,1481.5ZM1144.6,1475.2L1146.6,1477.7L1148.6,1475.2ZM1149.4,1472.5L1151.4,1468.5L1153.4,1472.5ZM1152.0,1484.2L1154.0,1490.2L1156.0,1484.2ZM1161.9,1480.1L1163.9,1479.5L1165.9,1480.1ZM1165.0,1487.2L1167.0,1492.3L1169.0,1487.2ZM1166.0,1484.7L1168.0,1475.8L1170.0,1484.7ZM1169.0,1486.7L1171.0,1493.6L1173.0,1486.7ZM1170.0,1486.9L1172.0,1478.5L1174.0,1486.9ZM1171.0,1489.6L1173.0,1502.5L1175.0,1489.6ZM1176.0,1486.8L1178.0,1496.8L1180.0,1486.8ZM1177.0,1489.9L1179.0,1477.4L1181.0,1489.9ZM1178.0,1487.7L1180.0,1480.0L1182.0,1487.7ZM1180.0,1490.2L1182.0,1482.7L1184.0,1490.2ZM1181.0,1488.6L1183.0,1483.1L1185.0,1488.6ZM1183.0,1491.3L1185.0,1496.6L1187.0,1491.3ZM1184.0,1489.7L1186.0,1498.2L1188.0,1489.7ZM1189.0,1491.2L1191.0,1485.5L1193.0,1491.2ZM1192.0,1487.2L1194.0,1494.5L1196.0,1487.2ZM1201.0,1486.5L1203.0,1491.6L1205.0,1486.5ZM1202.0,1488.8L1204.0,1497.0L1206.0,1488.8ZM1207.0,1487.4L1209.0,1482.2L1211.0,1487.4ZM1210.0,1486.7L1212.0,1480.2L1214.0,1486.7ZM1211.0,1487.0L1213.0,1473.8L1215.0,1487.0ZM1213.0,1489.3L1215.0,1495.4L1217.0,1489.3ZM1214.0,1487.0L1216.0,1492.9L1218.0,1487.0ZM1219.0,1490.1L1221.0,1482.8L1223.0,1490.1ZM1220.0,1491.9L1222.0,1502.1L1224.0,1491.9ZM1221.0,1491.7L1223.0,1497.7L1225.0,1491.7ZM1225.0,1488.7L1227.0,1480.8L1229.0,1488.7ZM1226.0,1491.9L1228.0,1508.0L1230.0,1491.9ZM1232.0,1489.5L1234.0,1484.1L1236.0,1489.5ZM1234.0,1488.0L1236.0,1474.9L1238.0,1488.0ZM1237.0,1488.3L1239.0,1477.9L1241.0,1488.3ZM1240.0,1492.2L1242.0,1497.8L1244.0,1492.2ZM1243.0,1489.8L1245.0,1482.1L1247.0,1489.8ZM1244.0,1489.6L1246.0,1498.0L1248.0,1489.6ZM1248.0,1490.8L1250.0,1485.1L1252.0,1490.8ZM1250.0,1489.1L1252.0,1494.2L1254.0,1489.1ZM1252.0,1486.2L1254.0,1479.6L1256.0,1486.2ZM1260.0,1482.8L1262.0,1473.2L1264.0,1482.8ZM1265.0,1493.8L1267.0,1487.1L1269.0,1493.8ZM1268.0,1483.2L1270.0,1476.5L1272.0,1483.2ZM1272.0,1484.1L1274.0,1477.3L1276.0,1484.1ZM1274.0,1483.6L1276.0,1494.3L1278.0,1483.6ZM1275.0,1487.2L1277.0,1476.6L1279.0,1487.2ZM1277.0,1477.8L1279.0,1471.2L1281.0,1477.8ZM1278.0,1470.1L1280.0,1461.4L1282.0,1470.1ZM1278.3,1469.7L1280.3,1466.5L1282.3,1469.7ZM1301.0,1485.3L1303.0,1480.1L1305.0,1485.3ZM1306.0,1494.6L1308.0,1486.4L1310.0,1494.6ZM1307.0,1489.1L1309.0,1494.6L1311.0,1489.1ZM1309.0,1494.0L1311.0,1509.0L1313.0,1494.0ZM1311.0,1496.0L1313.0,1512.3L1315.0,1496.0ZM1316.0,1499.0L1318.0,1487.0L1320.0,1499.0ZM1317.0,1494.7L1319.0,1488.8L1321.0,1494.7ZM1318.0,1494.9L1320.0,1504.8L1322.0,1494.9ZM1320.0,1494.2L1322.0,1483.0L1324.0,1494.2ZM1321.0,1492.1L1323.0,1484.5L1325.0,1492.1ZM1323.0,1495.9L1325.0,1488.9L1327.0,1495.9ZM1330.0,1495.1L1332.0,1481.4L1334.0,1495.1ZM1331.0,1494.2L1333.0,1499.8L1335.0,1494.2ZM1332.0,1492.9L1334.0,1498.2L1336.0,1492.9ZM1333.0,1493.8L1335.0,1488.1L1337.0,1493.8ZM1339.0,1492.0L1341.0,1498.5L1343.0,1492.0ZM1340.0,1490.5L1342.0,1500.3L1344.0,1490.5ZM1347.0,1489.3L1349.0,1477.6L1351.0,1489.3ZM1351.0,1493.3L1353.0,1486.8L1355.0,1493.3ZM1352.0,1492.5L1354.0,1501.7L1356.0,1492.5ZM1353.0,1494.0L1355.0,1510.4L1357.0,1494.0ZM1355.0,1488.4L1357.0,1497.7L1359.0,1488.4ZM1359.0,1499.0L1361.0,1505.8L1363.0,1499.0ZM1362.0,1492.7L1364.0,1498.1L1366.0,1492.7ZM1367.0,1489.9L1369.0,1504.7L1371.0,1489.9ZM1369.0,1494.6L1371.0,1500.0L1373.0,1494.6ZM1370.0,1498.6L1372.0,1484.0L1374.0,1498.6ZM1371.0,1492.6L1373.0,1499.5L1375.0,1492.6ZM1374.0,1486.7L1376.0,1478.2L1378.0,1486.7ZM1375.0,1489.2L1377.0,1504.2L1379.0,1489.2ZM1377.0,1491.2L1379.0,1485.1L1381.0,1491.2ZM1380.0,1490.5L1382.0,1483.3L1384.0,1490.5ZM1381.0,1491.4L1383.0,1485.1L1385.0,1491.4ZM1382.0,1493.0L1384.0,1501.4L1386.0,1493.0ZM1386.0,1490.8L1388.0,1485.2L1390.0,1490.8ZM1390.0,1493.9L1392.0,1488.7L1394.0,1493.9ZM1394.0,1493.8L1396.0,1488.8L1398.0,1493.8ZM1395.0,1490.2L1397.0,1496.6L1399.0,1490.2ZM1400.0,1491.3L1402.0,1497.2L1404.0,1491.3ZM1403.0,1494.0L1405.0,1485.6L1407.0,1494.0ZM1406.0,1490.2L1408.0,1496.6L1410.0,1490.2ZM1412.0,1494.3L1414.0,1500.0L1416.0,1494.3ZM1418.0,1490.3L1420.0,1474.0L1422.0,1490.3ZM1420.0,1487.4L1422.0,1482.0L1424.0,1487.4ZM1427.0,1489.2L1429.0,1483.2L1431.0,1489.2ZM1428.0,1484.8L1430.0,1476.1L1432.0,1484.8ZM1430.0,1490.2L1432.0,1480.9L1434.0,1490.2ZM1431.0,1487.6L1433.0,1495.1L1435.0,1487.6ZM1433.0,1490.7L1435.0,1477.1L1437.0,1490.7ZM1435.0,1489.1L1437.0,1478.6L1439.0,1489.1ZM1441.0,1493.3L1443.0,1483.3L1445.0,1493.3ZM1442.0,1489.1L1444.0,1481.3L1446.0,1489.1ZM1443.0,1493.3L1445.0,1499.9L1447.0,1493.3ZM1444.0,1498.4L1446.0,1492.8L1448.0,1498.4ZM1445.0,1488.7L1447.0,1474.8L1449.0,1488.7ZM1448.0,1488.3L1450.0,1480.1L1452.0,1488.3ZM1452.0,1494.2L1454.0,1499.3L1456.0,1494.2ZM1453.0,1492.2L1455.0,1485.2L1457.0,1492.2ZM1455.0,1495.3L1457.0,1507.4L1459.0,1495.3ZM1456.0,1494.1L1458.0,1487.4L1460.0,1494.1ZM1460.0,1494.3L1462.0,1488.0L1464.0,1494.3ZM1462.0,1489.7L1464.0,1464.8L1466.0,1489.7ZM1463.0,1489.3L1465.0,1499.3L1467.0,1489.3ZM1467.0,1490.7L1469.0,1482.8L1471.0,1490.7ZM1472.0,1495.5L1474.0,1501.6L1476.0,1495.5ZM1473.0,1496.6L1475.0,1503.8L1477.0,1496.6ZM1475.0,1497.2L1477.0,1506.9L1479.0,1497.2ZM1476.0,1493.1L1478.0,1483.5L1480.0,1493.1ZM1478.0,1496.2L1480.0,1489.5L1482.0,1496.2ZM1479.0,1494.9L1481.0,1512.1L1483.0,1494.9ZM1485.0,1488.5L1487.0,1481.9L1489.0,1488.5ZM1485.6,1488.1L1487.6,1485.5L1489.6,1488.1ZM1489.2,1485.4L1491.2,1473.4L1493.2,1485.4ZM1490.4,1487.4L1492.4,1472.2L1494.4,1487.4ZM1492.0,1495.8L1494.0,1511.0L1496.0,1495.8ZM1497.0,1488.2L1499.0,1480.3L1501.0,1488.2ZM1498.0,1488.6L1500.0,1494.8L1502.0,1488.6ZM1499.0,1488.6L1501.0,1482.9L1503.0,1488.6ZM1504.0,1484.6L1506.0,1503.0L1508.0,1484.6ZM1504.6,1482.7L1506.6,1490.1L1508.6,1482.7ZM1512.6,1481.5L1514.6,1485.7L1516.6,1481.5ZM1513.0,1481.5L1515.0,1488.5L1517.0,1481.5ZM1514.0,1485.7L1516.0,1491.3L1518.0,1485.7ZM1517.0,1488.2L1519.0,1481.2L1521.0,1488.2ZM1518.0,1489.0L1520.0,1483.9L1522.0,1489.0ZM1519.0,1487.7L1521.0,1496.1L1523.0,1487.7ZM1520.0,1491.2L1522.0,1496.6L1524.0,1491.2ZM1522.0,1495.6L1524.0,1501.3L1526.0,1495.6ZM1524.0,1486.6L1526.0,1497.4L1528.0,1486.6ZM1531.0,1488.6L1533.0,1500.0L1535.0,1488.6ZM1534.0,1492.8L1536.0,1484.4L1538.0,1492.8ZM1536.0,1489.2L1538.0,1499.8L1540.0,1489.2ZM1538.0,1493.9L1540.0,1500.1L1542.0,1493.9ZM1539.0,1485.4L1541.0,1491.4L1543.0,1485.4ZM1540.0,1492.1L1542.0,1499.1L1544.0,1492.1ZM1542.0,1490.6L1544.0,1482.3L1546.0,1490.6ZM1545.0,1494.9L1547.0,1503.8L1549.0,1494.9ZM1548.0,1488.5L1550.0,1483.5L1552.0,1488.5ZM1550.0,1487.2L1552.0,1481.8L1554.0,1487.2ZM1551.0,1487.6L1553.0,1479.6L1555.0,1487.6ZM1552.0,1493.6L1554.0,1487.6L1556.0,1493.6ZM1555.0,1493.3L1557.0,1500.6L1559.0,1493.3ZM1557.0,1488.1L1559.0,1493.5L1561.0,1488.1ZM1558.0,1491.8L1560.0,1481.8L1562.0,1491.8ZM1559.0,1491.6L1561.0,1498.9L1563.0,1491.6ZM1560.0,1492.1L1562.0,1479.6L1564.0,1492.1ZM1561.0,1492.4L1563.0,1486.9L1565.0,1492.4ZM1571.0,1491.9L1573.0,1485.2L1575.0,1491.9ZM1573.0,1491.6L1575.0,1496.7L1577.0,1491.6ZM1574.0,1492.1L1576.0,1505.7L1578.0,1492.1ZM1575.0,1492.0L1577.0,1484.9L1579.0,1492.0ZM1577.0,1488.4L1579.0,1494.8L1581.0,1488.4ZM1578.0,1490.8L1580.0,1480.6L1582.0,1490.8ZM1579.0,1490.8L1581.0,1497.2L1583.0,1490.8ZM1580.0,1492.1L1582.0,1498.7L1584.0,1492.1ZM1583.0,1495.0L1585.0,1479.1L1587.0,1495.0ZM1584.0,1492.6L1586.0,1498.8L1588.0,1492.6ZM1585.0,1492.0L1587.0,1478.1L1589.0,1492.0ZM1590.0,1487.7L1592.0,1493.8L1594.0,1487.7ZM1594.0,1490.1L1596.0,1481.0L1598.0,1490.1ZM1601.0,1493.3L1603.0,1506.5L1605.0,1493.3ZM1604.0,1494.5L1606.0,1501.7L1608.0,1494.5ZM1605.0,1492.2L1607.0,1485.3L1609.0,1492.2ZM1608.0,1488.2L1610.0,1479.3L1612.0,1488.2ZM1610.0,1494.0L1612.0,1486.2L1614.0,1494.0ZM1614.0,1495.3L1616.0,1502.8L1618.0,1495.3ZM1615.0,1495.8L1617.0,1501.0L1619.0,1495.8ZM1616.0,1491.5L1618.0,1498.8L1620.0,1491.5ZM1618.0,1493.9L1620.0,1485.8L1622.0,1493.9ZM1620.0,1499.3L1622.0,1507.7L1624.0,1499.3ZM1625.0,1494.9L1627.0,1500.5L1629.0,1494.9ZM1628.0,1491.2L1630.0,1475.4L1632.0,1491.2ZM1629.0,1493.7L1631.0,1486.1L1633.0,1493.7ZM1631.0,1486.0L1633.0,1474.6L1635.0,1486.0ZM1632.0,1486.5L1634.0,1496.3L1636.0,1486.5ZM1632.6,1478.4L1634.6,1486.3L1636.6,1478.4ZM1637.4,1475.1L1639.4,1469.5L1641.4,1475.1ZM1639.0,1485.4L1641.0,1493.7L1643.0,1485.4ZM1640.0,1489.0L1642.0,1503.8L1644.0,1489.0ZM1642.0,1484.6L1644.0,1499.8L1646.0,1484.6ZM1642.6,1484.7L1644.6,1490.8L1646.6,1484.7ZM1643.5,1477.6L1645.5,1475.0L1647.5,1477.6ZM1649.7,1477.3L1651.7,1468.4L1653.7,1477.3ZM1650.6,1486.2L1652.6,1474.3L1654.6,1486.2ZM1651.0,1487.7L1653.0,1476.4L1655.0,1487.7ZM1652.0,1484.4L1654.0,1478.6L1656.0,1484.4ZM1653.0,1487.6L1655.0,1492.8L1657.0,1487.6ZM1654.0,1491.9L1656.0,1481.4L1658.0,1491.9ZM1655.0,1490.0L1657.0,1482.8L1659.0,1490.0ZM1657.0,1494.8L1659.0,1499.8L1661.0,1494.8ZM1663.0,1489.2L1665.0,1480.0L1667.0,1489.2ZM1665.0,1485.6L1667.0,1478.8L1669.0,1485.6ZM1673.9,1470.8L1675.9,1469.2L1677.9,1470.8ZM1676.0,1479.9L1678.0,1474.1L1680.0,1479.9ZM1677.0,1488.0L1679.0,1496.0L1681.0,1488.0ZM1681.0,1491.7L1683.0,1497.8L1685.0,1491.7ZM1683.0,1484.5L1685.0,1493.1L1687.0,1484.5ZM1684.0,1490.4L1686.0,1501.4L1688.0,1490.4ZM1686.0,1489.8L1688.0,1504.2L1690.0,1489.8ZM1687.0,1493.4L1689.0,1498.9L1691.0,1493.4ZM1688.0,1490.8L1690.0,1484.4L1692.0,1490.8ZM1691.0,1497.3L1693.0,1502.8L1695.0,1497.3ZM1694.0,1492.4L1696.0,1501.9L1698.0,1492.4ZM1698.0,1491.0L1700.0,1479.3L1702.0,1491.0ZM1700.0,1487.5L1702.0,1480.6L1704.0,1487.5ZM1703.0,1485.4L1705.0,1480.0L1707.0,1485.4ZM1708.0,1492.1L1710.0,1497.5L1712.0,1492.1ZM1709.0,1487.9L1711.0,1482.5L1713.0,1487.9ZM1710.0,1492.9L1712.0,1486.3L1714.0,1492.9ZM1712.0,1490.0L1714.0,1483.2L1716.0,1490.0ZM1713.0,1487.6L1715.0,1480.7L1717.0,1487.6ZM1714.0,1486.0L1716.0,1491.4L1718.0,1486.0ZM1716.0,1483.3L1718.0,1490.1L1720.0,1483.3ZM1716.9,1470.0L1718.9,1470.7L1720.9,1470.0ZM1725.0,1482.3L1727.0,1491.7L1729.0,1482.3ZM1728.0,1492.6L1730.0,1486.5L1732.0,1492.6ZM1730.0,1486.9L1732.0,1503.9L1734.0,1486.9ZM1731.0,1492.3L1733.0,1486.0L1735.0,1492.3ZM1734.0,1491.9L1736.0,1481.0L1738.0,1491.9ZM1735.0,1486.0L1737.0,1480.6L1739.0,1486.0ZM1739.0,1490.1L1741.0,1484.2L1743.0,1490.1ZM1743.0,1489.8L1745.0,1483.0L1747.0,1489.8ZM1744.0,1489.2L1746.0,1483.4L1748.0,1489.2ZM1745.0,1491.6L1747.0,1482.8L1749.0,1491.6ZM1746.0,1492.0L1748.0,1499.7L1750.0,1492.0ZM1752.0,1495.8L1754.0,1502.2L1756.0,1495.8ZM1754.0,1493.0L1756.0,1499.6L1758.0,1493.0ZM1756.0,1489.8L1758.0,1498.9L1760.0,1489.8ZM1758.0,1494.4L1760.0,1500.9L1762.0,1494.4ZM1762.0,1494.8L1764.0,1506.1L1766.0,1494.8ZM1765.0,1489.5L1767.0,1484.4L1769.0,1489.5ZM1766.0,1493.3L1768.0,1504.9L1770.0,1493.3ZM1774.0,1491.6L1776.0,1497.7L1778.0,1491.6ZM1775.0,1495.3L1777.0,1490.2L1779.0,1495.3ZM1776.0,1494.3L1778.0,1489.0L1780.0,1494.3ZM1779.0,1492.7L1781.0,1487.6L1783.0,1492.7ZM1780.0,1492.9L1782.0,1487.4L1784.0,1492.9ZM1785.0,1496.3L1787.0,1502.1L1789.0,1496.3ZM1791.0,1493.4L1793.0,1488.0L1795.0,1493.4ZM1794.5,1470.3L1796.5,1474.4L1798.5,1470.3ZM1795.7,1481.5L1797.7,1488.8L1799.7,1481.5ZM1796.9,1483.1L1798.9,1483.8L1800.9,1483.1ZM1800.0,1494.1L1802.0,1503.2L1804.0,1494.1ZM1801.0,1492.2L1803.0,1498.1L1805.0,1492.2ZM1803.0,1491.5L1805.0,1483.3L1807.0,1491.5ZM1804.0,1496.8L1806.0,1491.8L1808.0,1496.8ZM1806.0,1492.9L1808.0,1498.3L1810.0,1492.9ZM1809.0,1494.9L1811.0,1503.7L1813.0,1494.9ZM1811.0,1493.8L1813.0,1486.0L1815.0,1493.8ZM1813.0,1491.8L1815.0,1496.9L1817.0,1491.8ZM1816.0,1493.3L1818.0,1484.4L1820.0,1493.3ZM1817.0,1491.6L1819.0,1486.3L1821.0,1491.6ZM1820.0,1487.6L1822.0,1493.9L1824.0,1487.6ZM1827.0,1492.6L1829.0,1498.3L1831.0,1492.6ZM1829.0,1490.4L1831.0,1508.1L1833.0,1490.4ZM1831.0,1489.4L1833.0,1478.4L1835.0,1489.4ZM1832.0,1490.9L1834.0,1481.7L1836.0,1490.9ZM1835.0,1487.8L1837.0,1495.3L1839.0,1487.8ZM1840.0,1492.9L1842.0,1499.4L1844.0,1492.9ZM1843.0,1486.9L1845.0,1495.2L1847.0,1486.9ZM1846.0,1492.0L1848.0,1502.2L1850.0,1492.0ZM1848.0,1492.5L1850.0,1499.4L1852.0,1492.5ZM1858.0,1490.4L1860.0,1483.2L1862.0,1490.4ZM1859.0,1486.0L1861.0,1495.1L1863.0,1486.0ZM1862.0,1489.9L1864.0,1476.8L1866.0,1489.9ZM1865.0,1494.8L1867.0,1485.1L1869.0,1494.8ZM1868.0,1491.5L1870.0,1484.2L1872.0,1491.5ZM1869.0,1493.2L1871.0,1486.4L1873.0,1493.2ZM1873.0,1493.0L1875.0,1498.2L1877.0,1493.0ZM1874.0,1493.8L1876.0,1502.9L1878.0,1493.8ZM1877.0,1489.7L1879.0,1497.7L1881.0,1489.7ZM1879.0,1491.5L1881.0,1497.2L1883.0,1491.5ZM1881.0,1496.6L1883.0,1489.6L1885.0,1496.6ZM1882.0,1497.7L1884.0,1515.1L1886.0,1497.7ZM1884.0,1495.7L1886.0,1502.4L1888.0,1495.7ZM1887.0,1492.5L1889.0,1497.7L1891.0,1492.5ZM1889.0,1487.9L1891.0,1479.6L1893.0,1487.9ZM1890.0,1492.1L1892.0,1486.8L1894.0,1492.1ZM1892.0,1495.1L1894.0,1488.5L1896.0,1495.1ZM1893.0,1490.7L1895.0,1500.6L1897.0,1490.7ZM1897.0,1496.2L1899.0,1502.7L1901.0,1496.2ZM1898.0,1493.1L1900.0,1487.8L1902.0,1493.1ZM1902.0,1497.7L1904.0,1504.4L1906.0,1497.7ZM1904.0,1490.5L1906.0,1484.4L1908.0,1490.5ZM1905.0,1492.7L1907.0,1500.2L1909.0,1492.7ZM1907.0,1487.2L1909.0,1492.5L1911.0,1487.2ZM1908.0,1491.7L1910.0,1497.5L1912.0,1491.7ZM1911.0,1488.3L1913.0,1479.8L1915.0,1488.3ZM1913.0,1495.6L1915.0,1489.1L1917.0,1495.6ZM1917.0,1489.1L1919.0,1483.3L1921.0,1489.1ZM1919.0,1486.2L1921.0,1491.6L1923.0,1486.2ZM1921.0,1491.8L1923.0,1497.8L1925.0,1491.8ZM1930.5,1476.3L1932.5,1479.3L1934.5,1476.3ZM1931.4,1486.0L1933.4,1485.4L1935.4,1486.0ZM1932.0,1489.1L1934.0,1478.6L1936.0,1489.1ZM1934.0,1488.7L1936.0,1494.4L1938.0,1488.7ZM1936.0,1494.8L1938.0,1488.9L1940.0,1494.8ZM1937.0,1491.6L1939.0,1497.3L1941.0,1491.6ZM1940.0,1496.8L1942.0,1503.6L1944.0,1496.8ZM1941.0,1494.8L1943.0,1500.8L1945.0,1494.8ZM1942.0,1489.1L1944.0,1494.1L1946.0,1489.1ZM1943.0,1492.3L1945.0,1481.7L1947.0,1492.3ZM1945.0,1493.2L1947.0,1487.5L1949.0,1493.2ZM1947.0,1492.2L1949.0,1485.0L1951.0,1492.2ZM1949.0,1494.8L1951.0,1484.7L1953.0,1494.8ZM1951.0,1495.2L1953.0,1489.5L1955.0,1495.2ZM1954.0,1496.4L1956.0,1508.4L1958.0,1496.4ZM1955.0,1500.7L1957.0,1491.8L1959.0,1500.7ZM1956.0,1495.0L1958.0,1500.7L1960.0,1495.0ZM1958.0,1498.7L1960.0,1503.8L1962.0,1498.7ZM1962.0,1500.7L1964.0,1514.1L1966.0,1500.7ZM1964.0,1498.3L1966.0,1492.0L1968.0,1498.3ZM1965.0,1499.6L1967.0,1483.5L1969.0,1499.6ZM1966.0,1493.3L1968.0,1486.0L1970.0,1493.3ZM1968.0,1499.2L1970.0,1490.4L1972.0,1499.2ZM1971.0,1497.1L1973.0,1508.9L1975.0,1497.1ZM1973.0,1495.5L1975.0,1489.8L1977.0,1495.5ZM1976.0,1496.9L1978.0,1505.8L1980.0,1496.9ZM1980.0,1496.8L1982.0,1485.7L1984.0,1496.8ZM1981.0,1503.1L1983.0,1508.4L1985.0,1503.1ZM1982.0,1499.5L1984.0,1494.4L1986.0,1499.5ZM1984.0,1492.4L1986.0,1486.3L1988.0,1492.4ZM1985.0,1499.6L1987.0,1478.1L1989.0,1499.6ZM1988.0,1491.2L1990.0,1483.9L1992.0,1491.2ZM2000.8,1477.4L2002.8,1476.0L2004.8,1477.4ZM2001.7,1486.1L2003.7,1481.8L2005.7,1486.1ZM2002.0,1487.4L2004.0,1481.2L2006.0,1487.4ZM2007.0,1488.3L2009.0,1482.8L2011.0,1488.3ZM2011.0,1495.2L2013.0,1509.0L2015.0,1495.2ZM2013.0,1492.8L2015.0,1486.6L2017.0,1492.8ZM2018.0,1493.3L2020.0,1500.3L2022.0,1493.3ZM2019.0,1491.3L2021.0,1497.8L2023.0,1491.3ZM2020.0,1493.2L2022.0,1486.6L2024.0,1493.2ZM2021.4,1486.8L2023.4,1490.6L2025.4,1486.8ZM2022.6,1478.5L2024.6,1474.5L2026.6,1478.5ZM2023.8,1477.9L2025.8,1476.6L2027.8,1477.9ZM2030.0,1498.7L2032.0,1490.1L2034.0,1498.7ZM2032.0,1496.8L2034.0,1487.8L2036.0,1496.8ZM2033.0,1501.3L2035.0,1496.0L2037.0,1501.3ZM2037.0,1496.1L2039.0,1508.5L2041.0,1496.1ZM2040.0,1502.7L2042.0,1508.2L2044.0,1502.7ZM2043.0,1498.1L2045.0,1505.0L2047.0,1498.1ZM2044.0,1500.9L2046.0,1492.5L2048.0,1500.9ZM2046.0,1501.5L2048.0,1496.2L2050.0,1501.5ZM2047.0,1497.5L2049.0,1505.0L2051.0,1497.5ZM2048.0,1504.1L2050.0,1532.1L2052.0,1504.1ZM2059.0,1499.2L2061.0,1510.7L2063.0,1499.2ZM2060.0,1494.3L2062.0,1499.4L2064.0,1494.3ZM2061.0,1493.0L2063.0,1498.3L2065.0,1493.0ZM2064.0,1492.0L2066.0,1498.3L2068.0,1492.0ZM2065.0,1492.4L2067.0,1504.3L2069.0,1492.4ZM2066.0,1497.3L2068.0,1502.3L2070.0,1497.3ZM2069.0,1494.2L2071.0,1504.1L2073.0,1494.2ZM2073.0,1495.8L2075.0,1484.1L2077.0,1495.8ZM2074.0,1496.6L2076.0,1480.3L2078.0,1496.6ZM2077.0,1496.0L2079.0,1487.6L2081.0,1496.0ZM2078.0,1500.3L2080.0,1506.0L2082.0,1500.3ZM2082.0,1502.6L2084.0,1487.6L2086.0,1502.6ZM2087.0,1497.8L2089.0,1490.8L2091.0,1497.8ZM2089.0,1500.5L2091.0,1491.0L2093.0,1500.5ZM2090.0,1505.3L2092.0,1511.4L2094.0,1505.3ZM2091.0,1497.3L2093.0,1491.9L2095.0,1497.3ZM2093.0,1497.7L2095.0,1505.2L2097.0,1497.7ZM2094.0,1494.5L2096.0,1484.6L2098.0,1494.5ZM2096.0,1497.6L2098.0,1488.9L2100.0,1497.6ZM2098.0,1493.2L2100.0,1503.5L2102.0,1493.2ZM2099.0,1499.0L2101.0,1488.3L2103.0,1499.0ZM2100.0,1495.7L2102.0,1481.7L2104.0,1495.7ZM2101.0,1499.0L2103.0,1505.1L2105.0,1499.0ZM2102.0,1498.2L2104.0,1503.9L2106.0,1498.2ZM2103.0,1493.4L2105.0,1500.3L2107.0,1493.4ZM2104.0,1501.9L2106.0,1495.9L2108.0,1501.9ZM2106.0,1498.8L2108.0,1504.2L2110.0,1498.8ZM2116.0,1500.1L2118.0,1488.3L2120.0,1500.1ZM2120.0,1499.6L2122.0,1486.0L2124.0,1499.6ZM2121.0,1500.1L2123.0,1492.0L2125.0,1500.1Z" fill="#000" stroke-width="0.5"/></g>
</svg>
</body></html>
